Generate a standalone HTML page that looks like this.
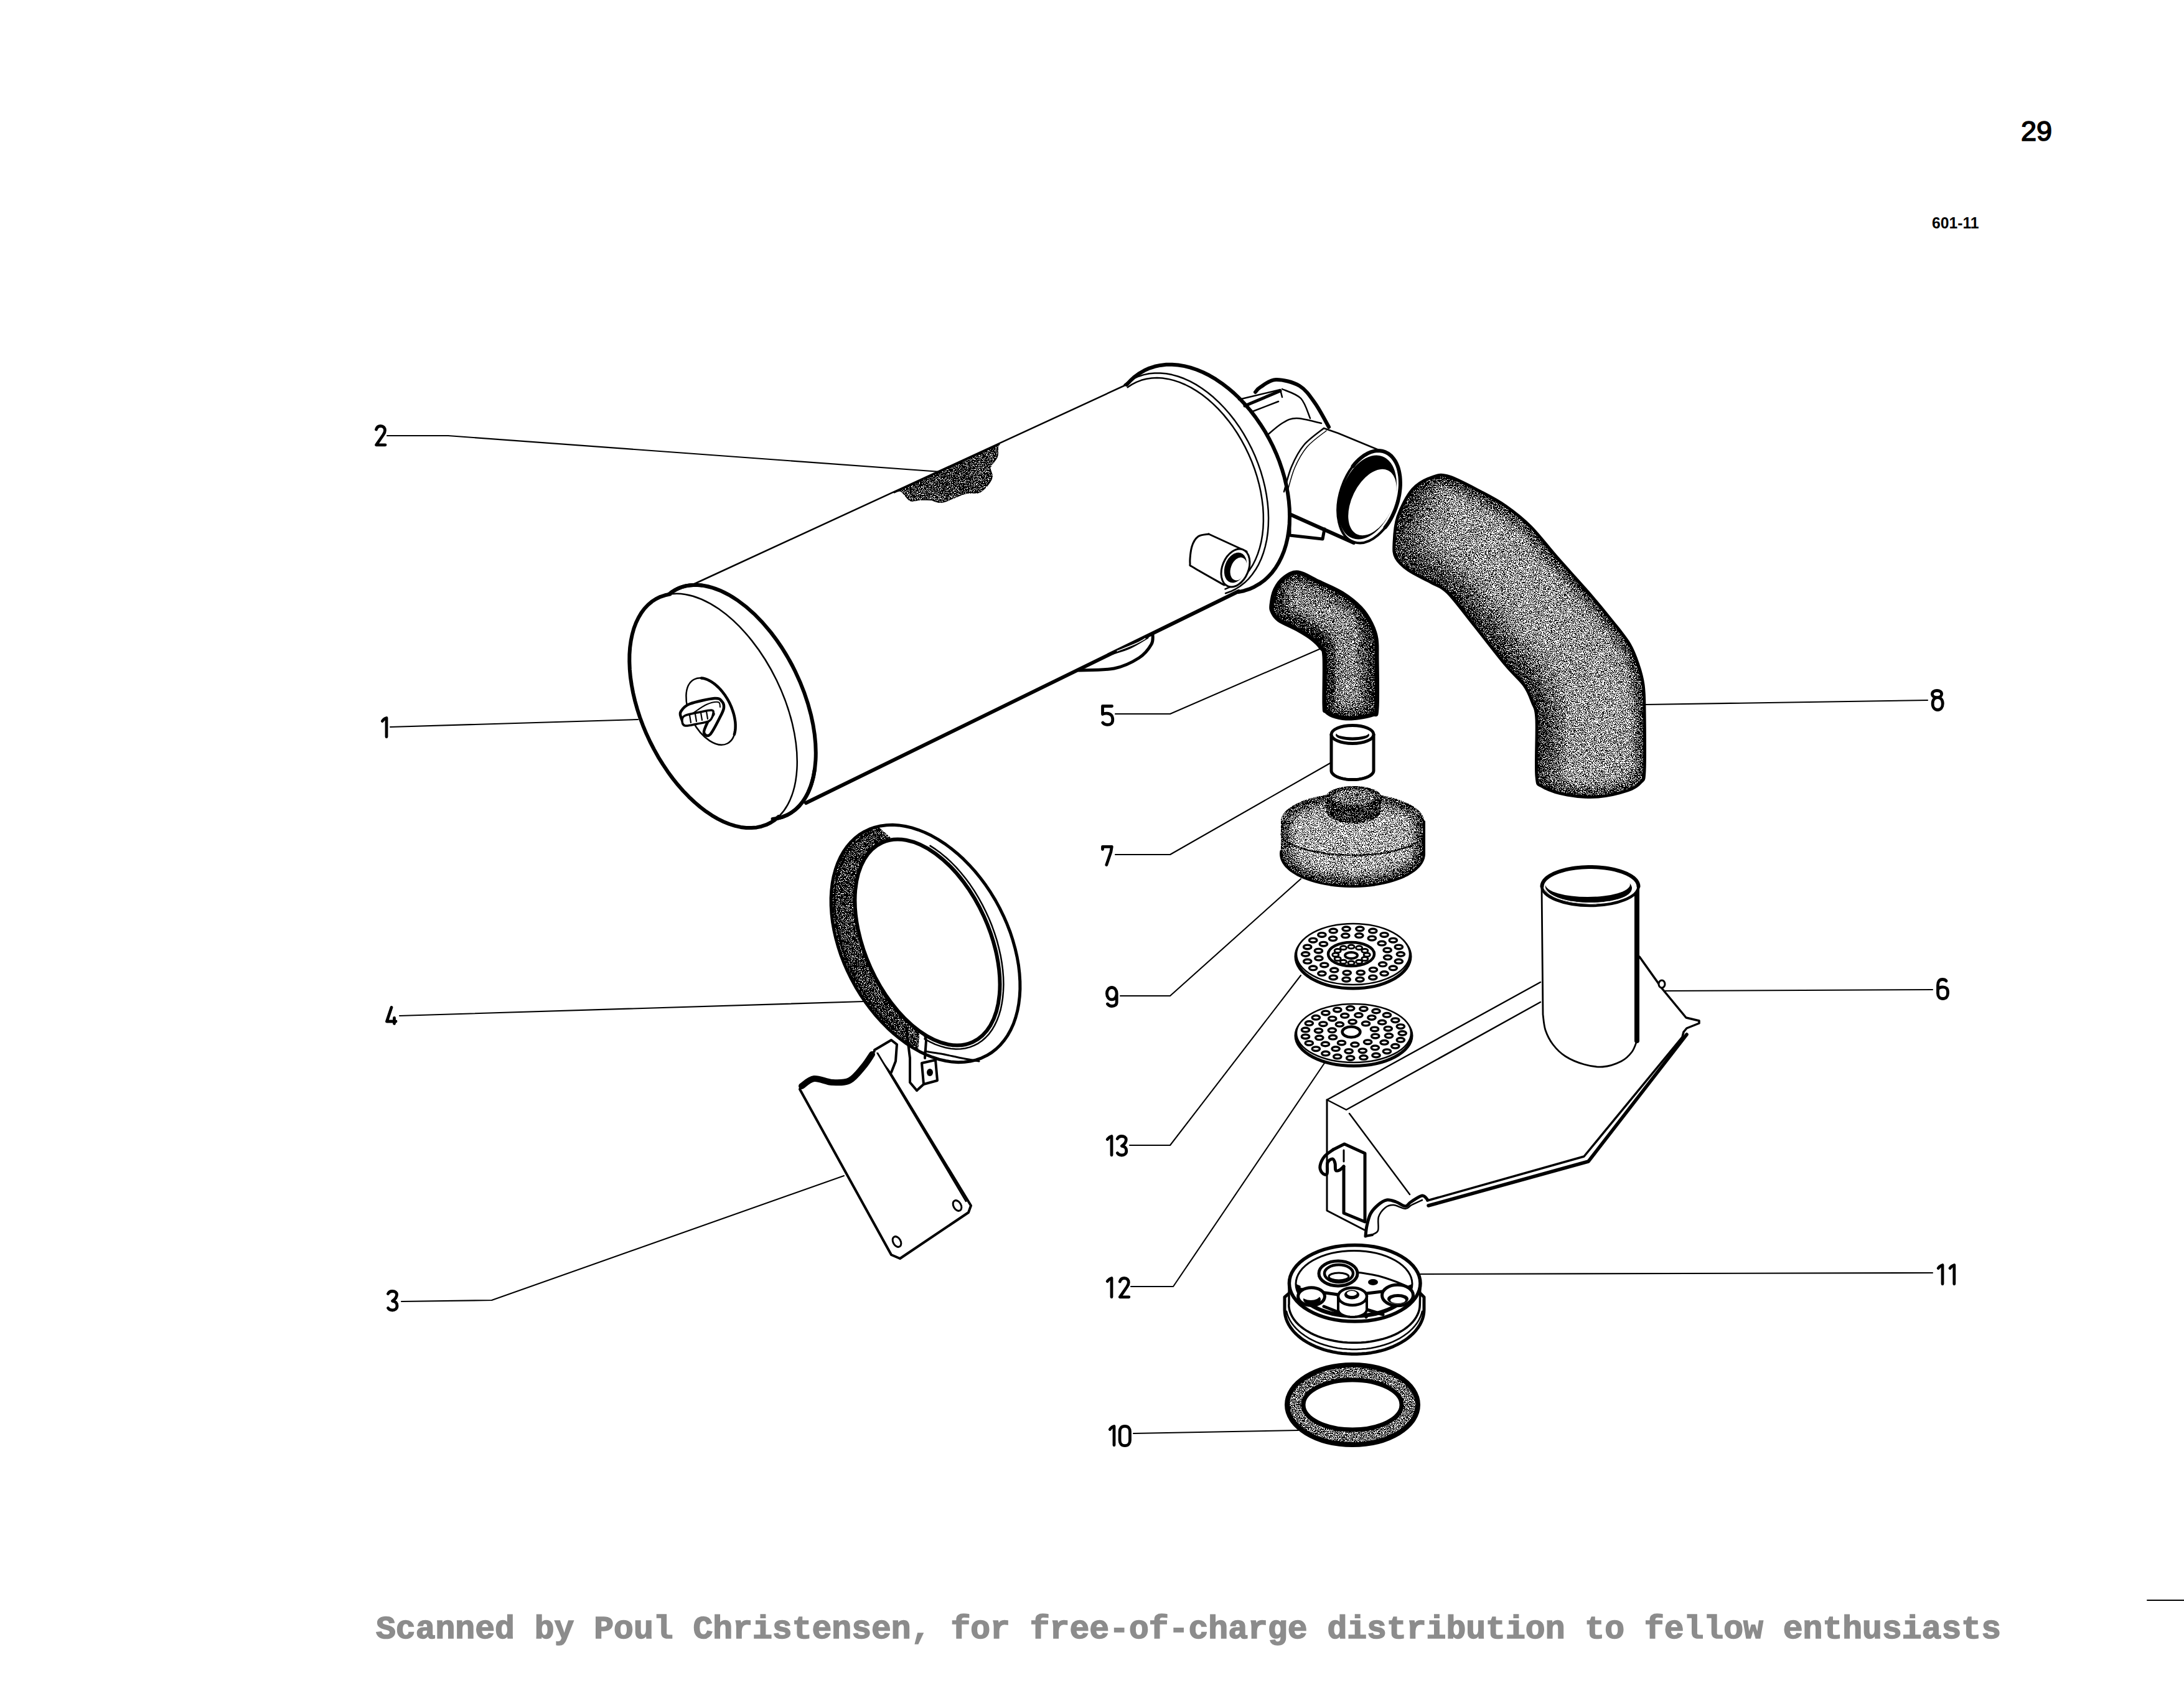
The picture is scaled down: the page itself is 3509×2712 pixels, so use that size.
<!DOCTYPE html>
<html><head><meta charset="utf-8"><style>
html,body{margin:0;padding:0;background:#fff;}
body{width:3509px;height:2712px;overflow:hidden;position:relative;}
svg{position:absolute;left:0;top:0;}
</style></head><body>
<svg width="3509" height="2712" viewBox="0 0 3509 2712">
<defs>

<filter id="stip" x="0" y="0" width="3509" height="2712" filterUnits="userSpaceOnUse" color-interpolation-filters="sRGB"><feTurbulence type="fractalNoise" baseFrequency="0.7" numOctaves="2" seed="7" result="noise"/><feColorMatrix in="noise" type="matrix" values="1 0 0 0 0  1 0 0 0 0  1 0 0 0 0  0 0 0 0 1" result="ng"/><feComponentTransfer in="ng" result="nc"><feFuncR type="linear" slope="3.2" intercept="-1.1"/><feFuncG type="linear" slope="3.2" intercept="-1.1"/><feFuncB type="linear" slope="3.2" intercept="-1.1"/></feComponentTransfer><feComposite in="SourceGraphic" in2="nc" operator="arithmetic" k1="0" k2="1" k3="1" k4="-0.5" result="sum"/><feComponentTransfer in="sum" result="th"><feFuncR type="discrete" tableValues="0 1"/><feFuncG type="discrete" tableValues="0 1"/><feFuncB type="discrete" tableValues="0 1"/></feComponentTransfer><feComposite in="th" in2="SourceAlpha" operator="in"/></filter>
<filter id="blur4" x="-20%" y="-20%" width="140%" height="140%"><feGaussianBlur stdDeviation="4"/></filter>
<filter id="blur20" x="-20%" y="-20%" width="140%" height="140%"><feGaussianBlur stdDeviation="18"/></filter>
<filter id="blur8" x="-20%" y="-20%" width="140%" height="140%"><feGaussianBlur stdDeviation="8"/></filter>

</defs>
<path transform="translate(602 682)" d="M2.5,8 C3.5,4.5 6,2.5 9.5,2.5 C14,2.5 16.5,5.5 16.5,9.5 C16.5,12.5 15.5,14.5 13.5,17 L2.5,32.8 L17,32.8" fill="none" stroke="#000" stroke-width="4.8" stroke-linecap="round" stroke-linejoin="round"/>
<path transform="translate(612 1151)" d="M2.3,7.5 C4,5 6,3.2 9,2.5 L9,32.8" fill="none" stroke="#000" stroke-width="4.8" stroke-linecap="round" stroke-linejoin="round"/>
<path transform="translate(619 1616)" d="M10,2.5 L2.5,25 L17,25 M14.5,19.5 L14.5,28.5" fill="none" stroke="#000" stroke-width="4.8" stroke-linecap="round" stroke-linejoin="round"/>
<path transform="translate(621 2072)" d="M2.5,6.5 C4,3.5 6.5,2.5 9.5,2.5 C13.5,2.5 16.5,4.5 16.5,8 C16.5,12 13,16 9.5,18.3 C14,18.5 17,21.5 17,26 C17,30.5 13.5,33 9.5,33 C6,33 3.8,31.5 2.5,29.5" fill="none" stroke="#000" stroke-width="4.8" stroke-linecap="round" stroke-linejoin="round"/>
<path transform="translate(1769 1132)" d="M17.5,2.5 L2.5,2.5 L2.5,15.5 C6,13.5 13,13.5 16.5,17 C19.5,20.5 19.5,28 16.5,30.5 C13,33.5 6,33 2.8,29" fill="none" stroke="#000" stroke-width="4.8" stroke-linecap="round" stroke-linejoin="round"/>
<path transform="translate(1769 1357)" d="M2.5,7.5 L2.5,3.3 L17.3,3.3 L15.8,12 L8.8,32.5" fill="none" stroke="#000" stroke-width="4.8" stroke-linecap="round" stroke-linejoin="round"/>
<path transform="translate(1776 1584)" d="M10.3,2.5 C14.7,2.5 18.2,6.5 18.2,12.2 C18.2,17.9 14.7,21.9 10.3,21.9 C5.9,21.9 2.4,17.9 2.4,12.2 C2.4,6.5 5.9,2.5 10.3,2.5 Z M18.2,12 L18.2,26 C18.2,30.5 15,32.5 10.5,32.5 C7,32.5 5,31 3.5,29" fill="none" stroke="#000" stroke-width="4.8" stroke-linecap="round" stroke-linejoin="round"/>
<path transform="translate(1777 1823)" d="M2.3,7.5 C4,5 6,3.2 9,2.5 L9,32.8" fill="none" stroke="#000" stroke-width="4.8" stroke-linecap="round" stroke-linejoin="round"/>
<path transform="translate(1792.8 1823)" d="M2.5,6.5 C4,3.5 6.5,2.5 9.5,2.5 C13.5,2.5 16.5,4.5 16.5,8 C16.5,12 13,16 9.5,18.3 C14,18.5 17,21.5 17,26 C17,30.5 13.5,33 9.5,33 C6,33 3.8,31.5 2.5,29.5" fill="none" stroke="#000" stroke-width="4.8" stroke-linecap="round" stroke-linejoin="round"/>
<path transform="translate(1777 2051)" d="M2.3,7.5 C4,5 6,3.2 9,2.5 L9,32.8" fill="none" stroke="#000" stroke-width="4.8" stroke-linecap="round" stroke-linejoin="round"/>
<path transform="translate(1796.8 2051)" d="M2.5,8 C3.5,4.5 6,2.5 9.5,2.5 C14,2.5 16.5,5.5 16.5,9.5 C16.5,12.5 15.5,14.5 13.5,17 L2.5,32.8 L17,32.8" fill="none" stroke="#000" stroke-width="4.8" stroke-linecap="round" stroke-linejoin="round"/>
<path transform="translate(1781 2289)" d="M2.3,7.5 C4,5 6,3.2 9,2.5 L9,32.8" fill="none" stroke="#000" stroke-width="4.8" stroke-linecap="round" stroke-linejoin="round"/>
<path transform="translate(1796.8 2289)" d="M10.5,2.3 C16,2.3 18.7,6 18.7,11 L18.7,25 C18.7,30 16,33.7 10.5,33.7 C5,33.7 2.3,30 2.3,25 L2.3,11 C2.3,6 5,2.3 10.5,2.3 Z" fill="none" stroke="#000" stroke-width="4.8" stroke-linecap="round" stroke-linejoin="round"/>
<path transform="translate(3102 1107)" d="M10.1,2.5 C14.5,2.5 17.6,4.8 17.6,8 C17.6,11.2 14.5,13.6 10.1,13.6 C5.7,13.6 2.5,11.2 2.5,8 C2.5,4.8 5.7,2.5 10.1,2.5 Z M11.2,13.6 C16,13.6 19.3,17.5 19.3,23.5 C19.3,29.5 16,33.5 11.2,33.5 C6.4,33.5 3.1,29.5 3.1,23.5 C3.1,17.5 6.4,13.6 11.2,13.6 Z" fill="none" stroke="#000" stroke-width="4.8" stroke-linecap="round" stroke-linejoin="round"/>
<path transform="translate(3111 1571)" d="M16,5 C14.5,3 12,2.5 10,2.5 C5,2.5 2.5,6 2.5,12 L2.5,25 C2.5,30 5.5,33.5 10.5,33.5 C15.5,33.5 18.5,30 18.5,25 L18.5,22.5 C18.5,17.5 15.5,14.8 10.5,14.8 C6.5,14.8 3.5,16.5 2.5,19" fill="none" stroke="#000" stroke-width="4.8" stroke-linecap="round" stroke-linejoin="round"/>
<path transform="translate(3112 2030)" d="M2.3,7.5 C4,5 6,3.2 9,2.5 L9,32.8" fill="none" stroke="#000" stroke-width="4.8" stroke-linecap="round" stroke-linejoin="round"/>
<path transform="translate(3130.8 2030)" d="M2.3,7.5 C4,5 6,3.2 9,2.5 L9,32.8" fill="none" stroke="#000" stroke-width="4.8" stroke-linecap="round" stroke-linejoin="round"/>
<text transform="translate(3247 226) scale(1.0 1)" font-family="Liberation Sans" font-size="45" font-weight="normal" fill="#000" stroke="#000" stroke-width="1.6">29</text>
<path d="M3450,2571 L3509,2571" fill="none" stroke="#000" stroke-width="2" stroke-linejoin="round" stroke-linecap="round"/>
<text transform="translate(3104 367) scale(0.95 1)" font-family="Liberation Sans" font-size="26" font-weight="bold" fill="#000">601-11</text>
<path d="M622,700 L720,700 L1511,758" fill="none" stroke="#000" stroke-width="2.1" stroke-linejoin="round" stroke-linecap="round"/>
<path d="M627,1168 L1025,1156" fill="none" stroke="#000" stroke-width="2.1" stroke-linejoin="round" stroke-linecap="round"/>
<path d="M642,1632 L1388,1609" fill="none" stroke="#000" stroke-width="2.1" stroke-linejoin="round" stroke-linecap="round"/>
<path d="M645,2091 L790,2089 L1356,1889" fill="none" stroke="#000" stroke-width="2.1" stroke-linejoin="round" stroke-linecap="round"/>
<path d="M1792,1147 L1880,1147 L2122,1042" fill="none" stroke="#000" stroke-width="2.1" stroke-linejoin="round" stroke-linecap="round"/>
<path d="M1792,1373 L1880,1373 L2139,1225" fill="none" stroke="#000" stroke-width="2.1" stroke-linejoin="round" stroke-linecap="round"/>
<path d="M1800,1600 L1880,1600 L2090,1412" fill="none" stroke="#000" stroke-width="2.1" stroke-linejoin="round" stroke-linecap="round"/>
<path d="M1815,1840 L1880,1840 L2090,1567" fill="none" stroke="#000" stroke-width="2.1" stroke-linejoin="round" stroke-linecap="round"/>
<path d="M1817,2067 L1885,2067 L2130,1705" fill="none" stroke="#000" stroke-width="2.1" stroke-linejoin="round" stroke-linecap="round"/>
<path d="M1821,2303 L2086,2298" fill="none" stroke="#000" stroke-width="2.1" stroke-linejoin="round" stroke-linecap="round"/>
<path d="M2644,1132 L3097,1125" fill="none" stroke="#000" stroke-width="2.1" stroke-linejoin="round" stroke-linecap="round"/>
<path d="M2675,1592 L3105,1590" fill="none" stroke="#000" stroke-width="2.1" stroke-linejoin="round" stroke-linecap="round"/>
<path d="M2282,2047 L3105,2045" fill="none" stroke="#000" stroke-width="2.1" stroke-linejoin="round" stroke-linecap="round"/>
<text x="604" y="2632" font-family="Liberation Mono" font-weight="bold" font-size="52.6" fill="#8c8c8c" stroke="#8c8c8c" stroke-width="1.6" textLength="2611" lengthAdjust="spacingAndGlyphs">Scanned by Poul Christensen, for free-of-charge distribution to fellow enthusiasts</text>
<path d="M1107,942 L1812,617" fill="none" stroke="#000" stroke-width="2.5" stroke-linejoin="round" stroke-linecap="round"/>
<path d="M1295,1290 L1990,950" fill="none" stroke="#000" stroke-width="6" stroke-linejoin="round" stroke-linecap="round"/>
<path d="M1733,1077 C1742.5,1076.5 1773.8,1077.3 1790,1074 C1806.2,1070.7 1820,1063.5 1830,1057 C1840,1050.5 1846.3,1041.5 1850,1035 C1853.7,1028.5 1851.7,1020.8 1852,1018" fill="none" stroke="#000" stroke-width="5" stroke-linejoin="round" stroke-linecap="round"/>
<path d="M1785,1050 C1790,1048.3 1805.3,1044.3 1815,1040 C1824.7,1035.7 1838.3,1026.7 1843,1024" fill="none" stroke="#000" stroke-width="5" stroke-linejoin="round" stroke-linecap="round"/>
<path d="M1795,1046 C1800,1044 1817.5,1037.3 1825,1034 C1832.5,1030.7 1837.5,1027.3 1840,1026" fill="none" stroke="#fff" stroke-width="1.5" stroke-linejoin="round" stroke-linecap="round"/>
<path d="M1810.2,618.1 L1816.5,611.2 L1823.3,605.1 L1830.7,599.8 L1838.5,595.3 L1846.7,591.6 L1855.3,588.8 L1864.3,586.9 L1873.6,585.8 L1883.1,585.7 L1892.9,586.5 L1902.8,588.1 L1912.8,590.6 L1922.9,594 L1933.1,598.3 L1943.2,603.3 L1953.2,609.2 L1963.1,615.9 L1972.8,623.3 L1982.3,631.4 L1991.5,640.2 L2000.4,649.6 L2009,659.6 L2017.1,670.1 L2024.8,681.2 L2032.1,692.6 L2038.8,704.4 L2045,716.5 L2050.6,728.9 L2055.6,741.5 L2059.9,754.2 L2063.7,767 L2066.7,779.8 L2069.1,792.5 L2070.8,805.2 L2071.8,817.6 L2072.1,829.8 L2071.7,841.7 L2070.5,853.3 L2068.7,864.5 L2066.2,875.1 L2063,885.3 L2059.1,894.9 L2054.6,903.9 L2049.5,912.2 L2043.8,919.9 L2037.5,926.8 L2030.7,932.9 L2023.3,938.2 L2015.5,942.7 L2007.3,946.4 L1998.7,949.2 L1989.7,951.1" fill="none" stroke="#000" stroke-width="6" stroke-linejoin="round" stroke-linecap="round"/>
<path d="M1806.6,617.9 L1813.7,612.7 L1821.3,608.3 L1829.3,604.7 L1837.6,602.1 L1846.3,600.3 L1855.2,599.4 L1864.4,599.4 L1873.7,600.3 L1883.2,602.1 L1892.8,604.8 L1902.5,608.3 L1912.1,612.7 L1921.7,617.9 L1931.2,624 L1940.5,630.8 L1949.7,638.3 L1958.6,646.6 L1967.2,655.5 L1975.5,665 L1983.5,675.1 L1991,685.7 L1998.1,696.8 L2004.6,708.3 L2010.7,720.1 L2016.3,732.3 L2021.2,744.6 L2025.6,757.2 L2029.3,769.8 L2032.4,782.5 L2034.8,795.1 L2036.6,807.7 L2037.7,820.1 L2038.1,832.3 L2037.8,844.2 L2036.9,855.8 L2035.3,867 L2032.9,877.8 L2030,888 L2026.4,897.7 L2022.2,906.8 L2017.3,915.3 L2011.9,923 L2006,930.1 L1999.5,936.3 L1992.5,941.8 L1985.1,946.5 L1977.2,950.3 L1969,953.2" fill="none" stroke="#000" stroke-width="2.5" stroke-linejoin="round" stroke-linecap="round"/>
<path d="M1811.7,622.2 L1818.7,617.6 L1826,613.8 L1833.8,610.8 L1841.9,608.7 L1850.3,607.5 L1858.9,607.1 L1867.8,607.6 L1876.8,608.9 L1885.9,611.1 L1895.1,614.1 L1904.3,618 L1913.5,622.6 L1922.6,628.1 L1931.6,634.3 L1940.5,641.3 L1949.1,648.9 L1957.5,657.2 L1965.7,666.1 L1973.4,675.6 L1980.9,685.6 L1987.9,696 L1994.4,706.9 L2000.5,718.1 L2006.1,729.7 L2011.2,741.5 L2015.7,753.5 L2019.6,765.6 L2022.9,777.8 L2025.6,790 L2027.6,802.1 L2029.1,814.1 L2029.8,825.9 L2029.9,837.5 L2029.4,848.8 L2028.2,859.8 L2026.4,870.4 L2023.9,880.4 L2020.8,890 L2017.1,899.1 L2012.9,907.5 L2008,915.2 L2002.6,922.3 L1996.7,928.7 L1990.3,934.3 L1983.4,939.1 L1976.2,943.2 L1968.5,946.4" fill="none" stroke="#000" stroke-width="2.5" stroke-linejoin="round" stroke-linecap="round"/>
<ellipse cx="1176" cy="1128" rx="202" ry="113" transform="rotate(64 1176 1128)" fill="#fff" stroke="#000" stroke-width="6"/>
<ellipse cx="1146" cy="1142" rx="202" ry="113" transform="rotate(64 1146 1142)" fill="#fff" stroke="#000" stroke-width="2.5"/>
<path d="M1250.8,1312.2 L1244.7,1317.4 L1238,1321.7 L1231,1325.2 L1223.4,1327.7 L1215.6,1329.4 L1207.4,1330.1 L1198.8,1330 L1190.1,1328.9 L1181.1,1326.9 L1171.9,1324 L1162.6,1320.2 L1153.3,1315.6 L1143.8,1310.1 L1134.5,1303.8 L1125.1,1296.6 L1115.9,1288.8 L1106.8,1280.2 L1097.9,1271 L1089.2,1261.1 L1080.8,1250.6 L1072.8,1239.7 L1065.1,1228.2 L1057.7,1216.3 L1050.9,1204.1 L1044.4,1191.5 L1038.5,1178.8 L1033.1,1165.8 L1028.2,1152.7 L1024,1139.6 L1020.3,1126.5 L1017.2,1113.4 L1014.8,1100.5 L1012.9,1087.8 L1011.8,1075.4 L1011.3,1063.2 L1011.4,1051.5 L1012.2,1040.2 L1013.7,1029.4 L1015.8,1019.2 L1018.5,1009.5 L1021.9,1000.5 L1025.9,992.2 L1030.4,984.6 L1035.5,977.8 L1041.2,971.8 L1047.3,966.6 L1054,962.3 L1061,958.8 L1068.6,956.3 L1076.4,954.6" fill="none" stroke="#000" stroke-width="6" stroke-linejoin="round" stroke-linecap="round"/>
<path d="M1309.1,1235.2 L1307.3,1245.8 L1304.9,1255.7 L1301.9,1265 L1298.2,1273.7 L1293.9,1281.7 L1289.1,1288.9 L1283.7,1295.3 L1277.8,1300.9 L1271.4,1305.7 L1264.6,1309.6 L1257.3,1312.6 L1249.6,1314.7 L1241.5,1315.9" fill="none" stroke="#000" stroke-width="6" stroke-linejoin="round" stroke-linecap="round"/>
<path d="M1078.9,951.5 L1084.2,948.2 L1089.7,945.4 L1095.5,943.2 L1101.5,941.5 L1107.7,940.4 L1114.1,939.9 L1120.7,939.9 L1127.5,940.5" fill="none" stroke="#000" stroke-width="6" stroke-linejoin="round" stroke-linecap="round"/>
<ellipse cx="1142" cy="1143" rx="58" ry="33" transform="rotate(62.6 1142 1143)" fill="none" stroke="#000" stroke-width="2.5"/>
<path d="M1126.9,1089.4 L1129.6,1089.8 L1132.3,1090.4 L1135,1091.3 L1137.8,1092.5 L1140.6,1093.9 L1143.4,1095.6 L1146.2,1097.5 L1149,1099.6 L1151.7,1102 L1154.4,1104.5 L1157.1,1107.3 L1159.6,1110.2 L1162.1,1113.3 L1164.5,1116.5 L1166.7,1119.9 L1168.9,1123.4 L1170.9,1127 L1172.7,1130.6 L1174.4,1134.4 L1175.9,1138.2 L1177.3,1142 L1178.5,1145.8 L1179.5,1149.5 L1180.3,1153.3 L1180.9,1157 L1181.4,1160.6 L1181.6,1164.2 L1181.6,1167.6 L1181.5,1171 L1181.1,1174.1 L1180.5,1177.2 L1179.8,1180" fill="none" stroke="#000" stroke-width="4.5" stroke-linejoin="round" stroke-linecap="round"/>
<path d="M1094,1143 C1096.3,1139.5 1099,1134.5 1108,1131 C1117,1127.5 1139.3,1122.7 1148,1122 C1156.7,1121.3 1157.5,1124.5 1160,1127 C1162.5,1129.5 1163.3,1133.2 1163,1137 C1162.7,1140.8 1161.7,1142.8 1158,1150 C1154.3,1157.2 1145.5,1175.5 1141,1180 C1136.5,1184.5 1131.7,1180.3 1131,1177 C1130.3,1173.7 1134.5,1165.2 1137,1160 C1139.5,1154.8 1148.8,1147.3 1146,1146 C1143.2,1144.7 1127.7,1149.7 1120,1152 C1112.3,1154.3 1104.3,1160 1100,1160 C1095.7,1160 1095,1154.8 1094,1152 C1093,1149.2 1091.7,1146.5 1094,1143 Z" fill="#fff" stroke="#000" stroke-width="4.5" stroke-linejoin="round" stroke-linecap="round"/>
<path d="M1100,1150 C1104.8,1147.5 1117.8,1145.5 1125,1144 C1132.2,1142.5 1139.5,1140.7 1143,1141 C1146.5,1141.3 1146.5,1143.2 1146,1146 C1145.5,1148.8 1144.3,1155.2 1140,1158 C1135.7,1160.8 1126.5,1161.7 1120,1163 C1113.5,1164.3 1105,1166.7 1101,1166 C1097,1165.3 1096.2,1161.7 1096,1159 C1095.8,1156.3 1095.2,1152.5 1100,1150 Z" fill="#fff" stroke="#000" stroke-width="3.5" stroke-linejoin="round" stroke-linecap="round"/>
<path d="M1108,1149 L1110,1161" fill="none" stroke="#000" stroke-width="2.2" stroke-linejoin="round" stroke-linecap="round"/>
<path d="M1117,1147 L1119,1159" fill="none" stroke="#000" stroke-width="2.2" stroke-linejoin="round" stroke-linecap="round"/>
<path d="M1126,1145 L1128,1157" fill="none" stroke="#000" stroke-width="2.2" stroke-linejoin="round" stroke-linecap="round"/>
<path d="M1135,1143 L1137,1155" fill="none" stroke="#000" stroke-width="2.2" stroke-linejoin="round" stroke-linecap="round"/>
<path d="M1113,1146 C1116.7,1143.7 1128.2,1135 1135,1132 C1141.8,1129 1150.3,1127.3 1154,1128 C1157.7,1128.7 1156.5,1134.7 1157,1136" fill="none" stroke="#000" stroke-width="2" stroke-linejoin="round" stroke-linecap="round"/>
<path d="M1942,858 C1939.2,858.7 1929.5,858.7 1925,862 C1920.5,865.3 1917.2,870.8 1915,878 C1912.8,885.2 1911.5,899.3 1912,905 C1912.5,910.7 1908.8,906.2 1918,912 C1927.2,917.8 1958.8,935.3 1967,940" fill="none" stroke="#000" stroke-width="3" stroke-linejoin="round" stroke-linecap="round"/>
<path d="M1942,858 L2003,886" fill="none" stroke="#000" stroke-width="3" stroke-linejoin="round" stroke-linecap="round"/>
<ellipse cx="1985" cy="912.5" rx="31.8" ry="21" transform="rotate(-67.3 1985 912.5)" fill="#fff" stroke="#000" stroke-width="3"/>
<ellipse cx="1985" cy="912" rx="25" ry="17" transform="rotate(-69.7 1985 912)" fill="#000"/>
<ellipse cx="1990" cy="914" rx="19" ry="12.5" transform="rotate(-69.7 1990 914)" fill="#fff"/>
<path d="M2017,630 C2018.3,628.7 2019.5,625.3 2025,622 C2030.5,618.7 2039.5,610.3 2050,610 C2060.5,609.7 2077.5,613.7 2088,620 C2098.5,626.3 2105.2,637 2113,648 C2120.8,659 2131.3,679.7 2135,686" fill="none" stroke="#000" stroke-width="6" stroke-linejoin="round" stroke-linecap="round"/>
<path d="M1990,642 L2057,626 L2060,638" fill="none" stroke="#000" stroke-width="2.5" stroke-linejoin="round" stroke-linecap="round"/>
<path d="M2000,652 L2057,628" fill="none" stroke="#000" stroke-width="5" stroke-linejoin="round" stroke-linecap="round"/>
<path d="M2010,662 L2054,645" fill="none" stroke="#000" stroke-width="2.5" stroke-linejoin="round" stroke-linecap="round"/>
<path d="M2035,700 C2039.2,696.7 2052,684.7 2060,680 C2068,675.3 2072.5,672 2083,672 C2093.5,672 2116.3,678.7 2123,680" fill="none" stroke="#000" stroke-width="2.5" stroke-linejoin="round" stroke-linecap="round"/>
<path d="M2060,625 C2065,627.5 2082.5,632.2 2090,640 C2097.5,647.8 2102.5,666.7 2105,672" fill="none" stroke="#000" stroke-width="2.5" stroke-linejoin="round" stroke-linecap="round"/>
<path d="M2127,688 C2121.7,692.5 2103.7,704.7 2095,715 C2086.3,725.3 2080.3,737.5 2075,750 C2069.7,762.5 2065,783.3 2063,790" fill="none" stroke="#000" stroke-width="2.5" stroke-linejoin="round" stroke-linecap="round"/>
<path d="M2131,692 C2125.8,696.3 2108.5,708 2100,718 C2091.5,728 2085.3,739.7 2080,752 C2074.7,764.3 2070,785.3 2068,792" fill="none" stroke="#000" stroke-width="1.5" stroke-linejoin="round" stroke-linecap="round"/>
<path d="M2127,688 L2150,696 L2225,727" fill="none" stroke="#000" stroke-width="2.5" stroke-linejoin="round" stroke-linecap="round"/>
<path d="M2072,826 L2175,872" fill="none" stroke="#000" stroke-width="6" stroke-linejoin="round" stroke-linecap="round"/>
<path d="M2072,832 L2072,860 L2125,866 L2128,850" fill="none" stroke="#000" stroke-width="5" stroke-linejoin="round" stroke-linecap="round"/>
<ellipse cx="2199.6" cy="798.2" rx="76.6" ry="46.5" transform="rotate(-71.5 2199.6 798.2)" fill="#fff" stroke="#000" stroke-width="4"/>
<ellipse cx="2197" cy="799" rx="70" ry="43" transform="rotate(-70 2197 799)" fill="#000"/>
<ellipse cx="2205" cy="807" rx="57" ry="33" transform="rotate(-64 2205 807)" fill="#fff"/>
<path d="M2173.6,749.1 L2176.6,745.3 L2179.8,741.9 L2183.1,738.6 L2186.5,735.7 L2189.9,733.1 L2193.3,730.8 L2196.8,728.8 L2200.4,727.1 L2203.9,725.8 L2207.4,724.9 L2210.8,724.3 L2214.2,724.1 L2217.5,724.2 L2220.8,724.7 L2223.9,725.6 L2226.9,726.8 L2229.8,728.3 L2232.5,730.2 L2235.1,732.4 L2237.5,735 L2239.7,737.8 L2241.8,741 L2243.6,744.4 L2245.2,748.1 L2246.6,752 L2247.7,756.2 L2248.6,760.6 L2249.3,765.1 L2249.7,769.8 L2249.9,774.7 L2249.9,779.6 L2249.6,784.7 L2249,789.8 L2248.3,794.9 L2247.2,800.1 L2246,805.3 L2244.5,810.4 L2242.8,815.5 L2240.9,820.5 L2238.8,825.3 L2236.5,830.1 L2234,834.7 L2231.4,839.1 L2228.6,843.3 L2225.6,847.3" fill="none" stroke="#000" stroke-width="6" stroke-linejoin="round" stroke-linecap="round"/>
<path d="M1437,791 C1438.8,790.7 1443.8,786.8 1448,789 C1452.2,791.2 1457.2,801.7 1462,804 C1466.8,806.3 1471.5,803.2 1477,803 C1482.5,802.8 1489,802.3 1495,803 C1501,803.7 1506,807.8 1513,807 C1520,806.2 1530.2,800.5 1537,798 C1543.8,795.5 1548,793.2 1554,792 C1560,790.8 1567.7,793 1573,791 C1578.3,789 1582.5,784.2 1586,780 C1589.5,775.8 1593.2,770.8 1594,766 C1594.8,761.2 1589.7,756.3 1591,751 C1592.3,745.7 1600,739.5 1602,734 C1604,728.5 1602.5,721.3 1603,718 C1603.5,714.7 1604.7,714.7 1605,714" fill="#fff"/>
<g filter="url(#stip)">
<path d="M1437,791 C1438.8,790.7 1443.8,786.8 1448,789 C1452.2,791.2 1457.2,801.7 1462,804 C1466.8,806.3 1471.5,803.2 1477,803 C1482.5,802.8 1489,802.3 1495,803 C1501,803.7 1506,807.8 1513,807 C1520,806.2 1530.2,800.5 1537,798 C1543.8,795.5 1548,793.2 1554,792 C1560,790.8 1567.7,793 1573,791 C1578.3,789 1582.5,784.2 1586,780 C1589.5,775.8 1593.2,770.8 1594,766 C1594.8,761.2 1589.7,756.3 1591,751 C1592.3,745.7 1600,739.5 1602,734 C1604,728.5 1602.5,721.3 1603,718 C1603.5,714.7 1604.7,714.7 1605,714" fill="#3a3a3a" stroke="#000" stroke-width="2" stroke-linejoin="round" stroke-linecap="round"/>
</g>
<path d="M1605,714 L1437,791" fill="none" stroke="#000" stroke-width="3" stroke-linejoin="round" stroke-linecap="round"/>
<g filter="url(#stip)">
<clipPath id="h8"><path d="M2240,873 C2240.5,862 2241,844.5 2246,830 C2251,815.5 2260.5,796.7 2270,786 C2279.5,775.3 2293.2,769.3 2303,766 C2312.8,762.7 2316.3,762 2329,766 C2341.7,770 2364,782.2 2379,790 C2394,797.8 2405.7,803.7 2419,813 C2432.3,822.3 2445.2,832.2 2459,846 C2472.8,859.8 2486.5,878.3 2502,896 C2517.5,913.7 2537.2,934.8 2552,952 C2566.8,969.2 2580,985.2 2591,999 C2602,1012.8 2611.2,1023.5 2618,1035 C2624.8,1046.5 2628.3,1057.2 2632,1068 C2635.7,1078.8 2638.3,1088 2640,1100 C2641.7,1112 2641.7,1117 2642,1140 C2642.3,1163 2643,1218.5 2642,1238 C2641,1257.5 2640.5,1251.7 2636,1257 C2631.5,1262.3 2626.3,1266.2 2615,1270 C2603.7,1273.8 2584.2,1278.8 2568,1280 C2551.8,1281.2 2532.8,1279.7 2518,1277 C2503.2,1274.3 2487.2,1269 2479,1264 C2470.8,1259 2470.7,1265.2 2469,1247 C2467.3,1228.8 2470.2,1174.8 2469,1155 C2467.8,1135.2 2465.3,1137 2462,1128 C2458.7,1119 2456.2,1111 2449,1101 C2441.8,1091 2432.3,1084 2419,1068 C2405.7,1052 2384.5,1024.3 2369,1005 C2353.5,985.7 2337.5,963.5 2326,952 C2314.5,940.5 2310.5,942 2300,936 C2289.5,930 2272.5,922.7 2263,916 C2253.5,909.3 2246.8,903.2 2243,896 C2239.2,888.8 2239.5,884 2240,873 Z"/></clipPath>
<path d="M2240,873 C2240.5,862 2241,844.5 2246,830 C2251,815.5 2260.5,796.7 2270,786 C2279.5,775.3 2293.2,769.3 2303,766 C2312.8,762.7 2316.3,762 2329,766 C2341.7,770 2364,782.2 2379,790 C2394,797.8 2405.7,803.7 2419,813 C2432.3,822.3 2445.2,832.2 2459,846 C2472.8,859.8 2486.5,878.3 2502,896 C2517.5,913.7 2537.2,934.8 2552,952 C2566.8,969.2 2580,985.2 2591,999 C2602,1012.8 2611.2,1023.5 2618,1035 C2624.8,1046.5 2628.3,1057.2 2632,1068 C2635.7,1078.8 2638.3,1088 2640,1100 C2641.7,1112 2641.7,1117 2642,1140 C2642.3,1163 2643,1218.5 2642,1238 C2641,1257.5 2640.5,1251.7 2636,1257 C2631.5,1262.3 2626.3,1266.2 2615,1270 C2603.7,1273.8 2584.2,1278.8 2568,1280 C2551.8,1281.2 2532.8,1279.7 2518,1277 C2503.2,1274.3 2487.2,1269 2479,1264 C2470.8,1259 2470.7,1265.2 2469,1247 C2467.3,1228.8 2470.2,1174.8 2469,1155 C2467.8,1135.2 2465.3,1137 2462,1128 C2458.7,1119 2456.2,1111 2449,1101 C2441.8,1091 2432.3,1084 2419,1068 C2405.7,1052 2384.5,1024.3 2369,1005 C2353.5,985.7 2337.5,963.5 2326,952 C2314.5,940.5 2310.5,942 2300,936 C2289.5,930 2272.5,922.7 2263,916 C2253.5,909.3 2246.8,903.2 2243,896 C2239.2,888.8 2239.5,884 2240,873 Z" fill="#939393"/>
<g clip-path="url(#h8)"><path d="M2240,873 C2240.5,862 2241,844.5 2246,830 C2251,815.5 2260.5,796.7 2270,786 C2279.5,775.3 2293.2,769.3 2303,766 C2312.8,762.7 2316.3,762 2329,766 C2341.7,770 2364,782.2 2379,790 C2394,797.8 2405.7,803.7 2419,813 C2432.3,822.3 2445.2,832.2 2459,846 C2472.8,859.8 2486.5,878.3 2502,896 C2517.5,913.7 2537.2,934.8 2552,952 C2566.8,969.2 2580,985.2 2591,999 C2602,1012.8 2611.2,1023.5 2618,1035 C2624.8,1046.5 2628.3,1057.2 2632,1068 C2635.7,1078.8 2638.3,1088 2640,1100 C2641.7,1112 2641.7,1117 2642,1140 C2642.3,1163 2643,1218.5 2642,1238 C2641,1257.5 2640.5,1251.7 2636,1257 C2631.5,1262.3 2626.3,1266.2 2615,1270 C2603.7,1273.8 2584.2,1278.8 2568,1280 C2551.8,1281.2 2532.8,1279.7 2518,1277 C2503.2,1274.3 2487.2,1269 2479,1264 C2470.8,1259 2470.7,1265.2 2469,1247 C2467.3,1228.8 2470.2,1174.8 2469,1155 C2467.8,1135.2 2465.3,1137 2462,1128 C2458.7,1119 2456.2,1111 2449,1101 C2441.8,1091 2432.3,1084 2419,1068 C2405.7,1052 2384.5,1024.3 2369,1005 C2353.5,985.7 2337.5,963.5 2326,952 C2314.5,940.5 2310.5,942 2300,936 C2289.5,930 2272.5,922.7 2263,916 C2253.5,909.3 2246.8,903.2 2243,896 C2239.2,888.8 2239.5,884 2240,873 Z" fill="none" stroke="#333" stroke-width="26" filter="url(#blur8)"/><path d="M2290,770 C2284.2,775 2263.3,782.8 2255,800 C2246.7,817.2 2242,857 2240,873 C2238,889 2239.2,888.8 2243,896 C2246.8,903.2 2253.5,909.3 2263,916 C2272.5,922.7 2289.5,930 2300,936 C2310.5,942 2314.5,940.5 2326,952 C2337.5,963.5 2353.5,985.7 2369,1005 C2384.5,1024.3 2405.7,1052 2419,1068 C2432.3,1084 2441.8,1091 2449,1101 C2456.2,1111 2458.7,1119 2462,1128 C2465.3,1137 2467.8,1135.2 2469,1155 C2470.2,1174.8 2469,1231.7 2469,1247" fill="none" stroke="#222" stroke-width="70" stroke-opacity="0.75" filter="url(#blur20)"/></g>
<clipPath id="h5"><path d="M2043,972 C2043.7,965.8 2045.5,954.3 2049,947 C2052.5,939.7 2057.8,932.5 2064,928 C2070.2,923.5 2076.8,918.8 2086,920 C2095.2,921.2 2107.3,929.5 2119,935 C2130.7,940.5 2144.8,946 2156,953 C2167.2,960 2178.2,968.8 2186,977 C2193.8,985.2 2198.8,993.8 2203,1002 C2207.2,1010.2 2209.5,1016.7 2211,1026 C2212.5,1035.3 2211.8,1039.3 2212,1058 C2212.2,1076.7 2213.2,1123 2212,1138 C2210.8,1153 2211.8,1145.3 2205,1148 C2198.2,1150.7 2180.8,1153.5 2171,1154 C2161.2,1154.5 2152.7,1152.8 2146,1151 C2139.3,1149.2 2134,1146.2 2131,1143 C2128,1139.8 2128.5,1146.7 2128,1132 C2127.5,1117.3 2129,1070.3 2128,1055 C2127,1039.7 2125.3,1044.8 2122,1040 C2118.7,1035.2 2114,1030.7 2108,1026 C2102,1021.3 2094.8,1017 2086,1012 C2077.2,1007 2061.8,1000.7 2055,996 C2048.2,991.3 2047,988 2045,984 C2043,980 2042.3,978.2 2043,972 Z"/></clipPath>
<path d="M2043,972 C2043.7,965.8 2045.5,954.3 2049,947 C2052.5,939.7 2057.8,932.5 2064,928 C2070.2,923.5 2076.8,918.8 2086,920 C2095.2,921.2 2107.3,929.5 2119,935 C2130.7,940.5 2144.8,946 2156,953 C2167.2,960 2178.2,968.8 2186,977 C2193.8,985.2 2198.8,993.8 2203,1002 C2207.2,1010.2 2209.5,1016.7 2211,1026 C2212.5,1035.3 2211.8,1039.3 2212,1058 C2212.2,1076.7 2213.2,1123 2212,1138 C2210.8,1153 2211.8,1145.3 2205,1148 C2198.2,1150.7 2180.8,1153.5 2171,1154 C2161.2,1154.5 2152.7,1152.8 2146,1151 C2139.3,1149.2 2134,1146.2 2131,1143 C2128,1139.8 2128.5,1146.7 2128,1132 C2127.5,1117.3 2129,1070.3 2128,1055 C2127,1039.7 2125.3,1044.8 2122,1040 C2118.7,1035.2 2114,1030.7 2108,1026 C2102,1021.3 2094.8,1017 2086,1012 C2077.2,1007 2061.8,1000.7 2055,996 C2048.2,991.3 2047,988 2045,984 C2043,980 2042.3,978.2 2043,972 Z" fill="#838383"/>
<g clip-path="url(#h5)"><path d="M2043,972 C2043.7,965.8 2045.5,954.3 2049,947 C2052.5,939.7 2057.8,932.5 2064,928 C2070.2,923.5 2076.8,918.8 2086,920 C2095.2,921.2 2107.3,929.5 2119,935 C2130.7,940.5 2144.8,946 2156,953 C2167.2,960 2178.2,968.8 2186,977 C2193.8,985.2 2198.8,993.8 2203,1002 C2207.2,1010.2 2209.5,1016.7 2211,1026 C2212.5,1035.3 2211.8,1039.3 2212,1058 C2212.2,1076.7 2213.2,1123 2212,1138 C2210.8,1153 2211.8,1145.3 2205,1148 C2198.2,1150.7 2180.8,1153.5 2171,1154 C2161.2,1154.5 2152.7,1152.8 2146,1151 C2139.3,1149.2 2134,1146.2 2131,1143 C2128,1139.8 2128.5,1146.7 2128,1132 C2127.5,1117.3 2129,1070.3 2128,1055 C2127,1039.7 2125.3,1044.8 2122,1040 C2118.7,1035.2 2114,1030.7 2108,1026 C2102,1021.3 2094.8,1017 2086,1012 C2077.2,1007 2061.8,1000.7 2055,996 C2048.2,991.3 2047,988 2045,984 C2043,980 2042.3,978.2 2043,972 Z" fill="none" stroke="#222" stroke-width="22" filter="url(#blur8)"/><path d="M2050,950 C2049.2,955.7 2044.2,976.3 2045,984 C2045.8,991.7 2048.2,991.3 2055,996 C2061.8,1000.7 2077.2,1007 2086,1012 C2094.8,1017 2102,1021.3 2108,1026 C2114,1030.7 2118.7,1035.2 2122,1040 C2125.3,1044.8 2127,1039.7 2128,1055 C2129,1070.3 2128,1119.2 2128,1132" fill="none" stroke="#111" stroke-width="40" stroke-opacity="0.8" filter="url(#blur8)"/><path d="M2186,977 C2188.8,981.2 2198.8,993.8 2203,1002 C2207.2,1010.2 2209.5,1016.7 2211,1026 C2212.5,1035.3 2211.8,1039.3 2212,1058 C2212.2,1076.7 2212,1124.7 2212,1138" fill="none" stroke="#111" stroke-width="45" stroke-opacity="0.6" filter="url(#blur8)"/></g>
</g>
<path d="M2240,873 C2240.5,862 2241,844.5 2246,830 C2251,815.5 2260.5,796.7 2270,786 C2279.5,775.3 2293.2,769.3 2303,766 C2312.8,762.7 2316.3,762 2329,766 C2341.7,770 2364,782.2 2379,790 C2394,797.8 2405.7,803.7 2419,813 C2432.3,822.3 2445.2,832.2 2459,846 C2472.8,859.8 2486.5,878.3 2502,896 C2517.5,913.7 2537.2,934.8 2552,952 C2566.8,969.2 2580,985.2 2591,999 C2602,1012.8 2611.2,1023.5 2618,1035 C2624.8,1046.5 2628.3,1057.2 2632,1068 C2635.7,1078.8 2638.3,1088 2640,1100 C2641.7,1112 2641.7,1117 2642,1140 C2642.3,1163 2643,1218.5 2642,1238 C2641,1257.5 2640.5,1251.7 2636,1257 C2631.5,1262.3 2626.3,1266.2 2615,1270 C2603.7,1273.8 2584.2,1278.8 2568,1280 C2551.8,1281.2 2532.8,1279.7 2518,1277 C2503.2,1274.3 2487.2,1269 2479,1264 C2470.8,1259 2470.7,1265.2 2469,1247 C2467.3,1228.8 2470.2,1174.8 2469,1155 C2467.8,1135.2 2465.3,1137 2462,1128 C2458.7,1119 2456.2,1111 2449,1101 C2441.8,1091 2432.3,1084 2419,1068 C2405.7,1052 2384.5,1024.3 2369,1005 C2353.5,985.7 2337.5,963.5 2326,952 C2314.5,940.5 2310.5,942 2300,936 C2289.5,930 2272.5,922.7 2263,916 C2253.5,909.3 2246.8,903.2 2243,896 C2239.2,888.8 2239.5,884 2240,873 Z" fill="none" stroke="#000" stroke-width="5" stroke-linejoin="round" stroke-linecap="round"/>
<path d="M2043,972 C2043.7,965.8 2045.5,954.3 2049,947 C2052.5,939.7 2057.8,932.5 2064,928 C2070.2,923.5 2076.8,918.8 2086,920 C2095.2,921.2 2107.3,929.5 2119,935 C2130.7,940.5 2144.8,946 2156,953 C2167.2,960 2178.2,968.8 2186,977 C2193.8,985.2 2198.8,993.8 2203,1002 C2207.2,1010.2 2209.5,1016.7 2211,1026 C2212.5,1035.3 2211.8,1039.3 2212,1058 C2212.2,1076.7 2213.2,1123 2212,1138 C2210.8,1153 2211.8,1145.3 2205,1148 C2198.2,1150.7 2180.8,1153.5 2171,1154 C2161.2,1154.5 2152.7,1152.8 2146,1151 C2139.3,1149.2 2134,1146.2 2131,1143 C2128,1139.8 2128.5,1146.7 2128,1132 C2127.5,1117.3 2129,1070.3 2128,1055 C2127,1039.7 2125.3,1044.8 2122,1040 C2118.7,1035.2 2114,1030.7 2108,1026 C2102,1021.3 2094.8,1017 2086,1012 C2077.2,1007 2061.8,1000.7 2055,996 C2048.2,991.3 2047,988 2045,984 C2043,980 2042.3,978.2 2043,972 Z" fill="none" stroke="#000" stroke-width="7" stroke-linejoin="round" stroke-linecap="round"/>
<path d="M2207,1238 L2206.9,1239 L2206.7,1240 L2206.3,1241 L2205.7,1242 L2204.9,1243 L2204.1,1243.9 L2203,1244.9 L2201.8,1245.7 L2200.5,1246.6 L2199,1247.4 L2197.5,1248.1 L2195.8,1248.8 L2193.9,1249.5 L2192,1250.1 L2190,1250.6 L2187.9,1251.1 L2185.7,1251.5 L2183.5,1251.9 L2181.2,1252.2 L2178.9,1252.4 L2176.6,1252.5 L2174.2,1252.6 L2171.8,1252.6 L2169.4,1252.5 L2167.1,1252.4 L2164.8,1252.2 L2162.5,1251.9 L2160.3,1251.5 L2158.1,1251.1 L2156,1250.6 L2154,1250.1 L2152.1,1249.5 L2150.2,1248.8 L2148.5,1248.1 L2147,1247.4 L2145.5,1246.6 L2144.2,1245.7 L2143,1244.9 L2141.9,1243.9 L2141.1,1243 L2140.3,1242 L2139.7,1241 L2139.3,1240 L2139.1,1239 L2139,1238 L2139,1180 L2207,1180 Z" fill="#fff" stroke="#000" stroke-width="5" stroke-linejoin="round" stroke-linecap="round"/>
<ellipse cx="2173" cy="1180" rx="34" ry="14.6" fill="#fff" stroke="#000" stroke-width="5"/>
<ellipse cx="2173" cy="1181" rx="27" ry="8.5" fill="#000"/>
<ellipse cx="2173" cy="1178" rx="26" ry="6.5" fill="#fff"/>
<g filter="url(#stip)">
<clipPath id="p9"><path d="M2058,1320 L2058.3,1316.8 L2059.1,1313.6 L2060.5,1310.4 L2062.5,1307.3 L2064.9,1304.3 L2067.9,1301.3 L2071.5,1298.4 L2075.5,1295.6 L2080,1293 L2084.9,1290.4 L2090.3,1288 L2096,1285.8 L2102.2,1283.8 L2108.7,1281.9 L2115.5,1280.2 L2122.6,1278.7 L2129.9,1277.3 L2137.5,1276.3 L2145.2,1275.4 L2153,1274.7 L2161,1274.3 L2169,1274 L2177,1274 L2185,1274.3 L2193,1274.7 L2200.8,1275.4 L2208.5,1276.3 L2216.1,1277.3 L2223.4,1278.7 L2230.5,1280.2 L2237.3,1281.9 L2243.8,1283.8 L2250,1285.8 L2255.7,1288 L2261.1,1290.4 L2266,1293 L2270.5,1295.6 L2274.5,1298.4 L2278.1,1301.3 L2281.1,1304.3 L2283.5,1307.3 L2285.5,1310.4 L2286.9,1313.6 L2287.7,1316.8 L2288,1320 L2288,1372 L2287.7,1375.6 L2286.9,1379.2 L2285.5,1382.8 L2283.5,1386.3 L2281.1,1389.8 L2278.1,1393.2 L2274.5,1396.4 L2270.5,1399.6 L2266,1402.6 L2261.1,1405.4 L2255.7,1408.1 L2250,1410.6 L2243.8,1413 L2237.3,1415.1 L2230.5,1417 L2223.4,1418.7 L2216.1,1420.2 L2208.5,1421.5 L2200.8,1422.5 L2193,1423.2 L2185,1423.7 L2177,1424 L2169,1424 L2161,1423.7 L2153,1423.2 L2145.2,1422.5 L2137.5,1421.5 L2129.9,1420.2 L2122.6,1418.7 L2115.5,1417 L2108.7,1415.1 L2102.2,1413 L2096,1410.6 L2090.3,1408.1 L2084.9,1405.4 L2080,1402.6 L2075.5,1399.6 L2071.5,1396.4 L2067.9,1393.2 L2064.9,1389.8 L2062.5,1386.3 L2060.5,1382.8 L2059.1,1379.2 L2058.3,1375.6 L2058,1372 Z"/></clipPath>
<path d="M2058,1320 L2058.3,1316.8 L2059.1,1313.6 L2060.5,1310.4 L2062.5,1307.3 L2064.9,1304.3 L2067.9,1301.3 L2071.5,1298.4 L2075.5,1295.6 L2080,1293 L2084.9,1290.4 L2090.3,1288 L2096,1285.8 L2102.2,1283.8 L2108.7,1281.9 L2115.5,1280.2 L2122.6,1278.7 L2129.9,1277.3 L2137.5,1276.3 L2145.2,1275.4 L2153,1274.7 L2161,1274.3 L2169,1274 L2177,1274 L2185,1274.3 L2193,1274.7 L2200.8,1275.4 L2208.5,1276.3 L2216.1,1277.3 L2223.4,1278.7 L2230.5,1280.2 L2237.3,1281.9 L2243.8,1283.8 L2250,1285.8 L2255.7,1288 L2261.1,1290.4 L2266,1293 L2270.5,1295.6 L2274.5,1298.4 L2278.1,1301.3 L2281.1,1304.3 L2283.5,1307.3 L2285.5,1310.4 L2286.9,1313.6 L2287.7,1316.8 L2288,1320 L2288,1372 L2287.7,1375.6 L2286.9,1379.2 L2285.5,1382.8 L2283.5,1386.3 L2281.1,1389.8 L2278.1,1393.2 L2274.5,1396.4 L2270.5,1399.6 L2266,1402.6 L2261.1,1405.4 L2255.7,1408.1 L2250,1410.6 L2243.8,1413 L2237.3,1415.1 L2230.5,1417 L2223.4,1418.7 L2216.1,1420.2 L2208.5,1421.5 L2200.8,1422.5 L2193,1423.2 L2185,1423.7 L2177,1424 L2169,1424 L2161,1423.7 L2153,1423.2 L2145.2,1422.5 L2137.5,1421.5 L2129.9,1420.2 L2122.6,1418.7 L2115.5,1417 L2108.7,1415.1 L2102.2,1413 L2096,1410.6 L2090.3,1408.1 L2084.9,1405.4 L2080,1402.6 L2075.5,1399.6 L2071.5,1396.4 L2067.9,1393.2 L2064.9,1389.8 L2062.5,1386.3 L2060.5,1382.8 L2059.1,1379.2 L2058.3,1375.6 L2058,1372 Z" fill="#a2a2a2"/>
<g clip-path="url(#p9)"><path d="M2058,1320 L2058.3,1316.8 L2059.1,1313.6 L2060.5,1310.4 L2062.5,1307.3 L2064.9,1304.3 L2067.9,1301.3 L2071.5,1298.4 L2075.5,1295.6 L2080,1293 L2084.9,1290.4 L2090.3,1288 L2096,1285.8 L2102.2,1283.8 L2108.7,1281.9 L2115.5,1280.2 L2122.6,1278.7 L2129.9,1277.3 L2137.5,1276.3 L2145.2,1275.4 L2153,1274.7 L2161,1274.3 L2169,1274 L2177,1274 L2185,1274.3 L2193,1274.7 L2200.8,1275.4 L2208.5,1276.3 L2216.1,1277.3 L2223.4,1278.7 L2230.5,1280.2 L2237.3,1281.9 L2243.8,1283.8 L2250,1285.8 L2255.7,1288 L2261.1,1290.4 L2266,1293 L2270.5,1295.6 L2274.5,1298.4 L2278.1,1301.3 L2281.1,1304.3 L2283.5,1307.3 L2285.5,1310.4 L2286.9,1313.6 L2287.7,1316.8 L2288,1320 L2288,1372 L2287.7,1375.6 L2286.9,1379.2 L2285.5,1382.8 L2283.5,1386.3 L2281.1,1389.8 L2278.1,1393.2 L2274.5,1396.4 L2270.5,1399.6 L2266,1402.6 L2261.1,1405.4 L2255.7,1408.1 L2250,1410.6 L2243.8,1413 L2237.3,1415.1 L2230.5,1417 L2223.4,1418.7 L2216.1,1420.2 L2208.5,1421.5 L2200.8,1422.5 L2193,1423.2 L2185,1423.7 L2177,1424 L2169,1424 L2161,1423.7 L2153,1423.2 L2145.2,1422.5 L2137.5,1421.5 L2129.9,1420.2 L2122.6,1418.7 L2115.5,1417 L2108.7,1415.1 L2102.2,1413 L2096,1410.6 L2090.3,1408.1 L2084.9,1405.4 L2080,1402.6 L2075.5,1399.6 L2071.5,1396.4 L2067.9,1393.2 L2064.9,1389.8 L2062.5,1386.3 L2060.5,1382.8 L2059.1,1379.2 L2058.3,1375.6 L2058,1372 Z" fill="none" stroke="#222" stroke-width="26" filter="url(#blur8)"/></g>
<path d="M2287.6,1340.2 L2286.6,1342.8 L2285,1345.4 L2282.9,1347.9 L2280.2,1350.4 L2277,1352.8 L2273.3,1355.1 L2269.1,1357.3 L2264.4,1359.5 L2259.2,1361.5 L2253.6,1363.4 L2247.7,1365.1 L2241.3,1366.8 L2234.6,1368.2 L2227.6,1369.6 L2220.3,1370.7 L2212.8,1371.7 L2205.1,1372.5 L2197.2,1373.2 L2189.2,1373.6 L2181.1,1373.9 L2173,1374 L2164.9,1373.9 L2156.8,1373.6 L2148.8,1373.2 L2140.9,1372.5 L2133.2,1371.7 L2125.7,1370.7 L2118.4,1369.6 L2111.4,1368.2 L2104.7,1366.8 L2098.3,1365.1 L2092.4,1363.4 L2086.8,1361.5 L2081.6,1359.5 L2076.9,1357.3 L2072.7,1355.1 L2069,1352.8 L2065.8,1350.4 L2063.1,1347.9 L2061,1345.4 L2059.4,1342.8 L2058.4,1340.2" fill="none" stroke="#000" stroke-width="2.5" stroke-linejoin="round" stroke-linecap="round"/>
<path d="M2131,1280 L2131.1,1278.8 L2131.4,1277.6 L2132,1276.5 L2132.7,1275.3 L2133.7,1274.2 L2134.8,1273.1 L2136.2,1272 L2137.7,1271 L2139.4,1270 L2141.3,1269.1 L2143.3,1268.2 L2145.6,1267.4 L2147.9,1266.6 L2150.4,1265.9 L2153,1265.3 L2155.7,1264.7 L2158.5,1264.2 L2161.4,1263.8 L2164.4,1263.5 L2167.4,1263.3 L2170.4,1263.1 L2173.5,1263 L2176.5,1263 L2179.6,1263.1 L2182.6,1263.3 L2185.6,1263.5 L2188.6,1263.8 L2191.5,1264.2 L2194.3,1264.7 L2197,1265.3 L2199.6,1265.9 L2202.1,1266.6 L2204.4,1267.4 L2206.7,1268.2 L2208.7,1269.1 L2210.6,1270 L2212.3,1271 L2213.8,1272 L2215.2,1273.1 L2216.3,1274.2 L2217.3,1275.3 L2218,1276.5 L2218.6,1277.6 L2218.9,1278.8 L2219,1280 L2219,1302 L2218.9,1303.5 L2218.6,1304.9 L2218,1306.4 L2217.3,1307.8 L2216.3,1309.2 L2215.2,1310.5 L2213.8,1311.9 L2212.3,1313.1 L2210.6,1314.3 L2208.7,1315.5 L2206.7,1316.6 L2204.4,1317.6 L2202.1,1318.5 L2199.6,1319.4 L2197,1320.2 L2194.3,1320.9 L2191.5,1321.5 L2188.6,1322 L2185.6,1322.4 L2182.6,1322.7 L2179.6,1322.9 L2176.5,1323 L2173.5,1323 L2170.4,1322.9 L2167.4,1322.7 L2164.4,1322.4 L2161.4,1322 L2158.5,1321.5 L2155.7,1320.9 L2153,1320.2 L2150.4,1319.4 L2147.9,1318.5 L2145.6,1317.6 L2143.3,1316.6 L2141.3,1315.5 L2139.4,1314.3 L2137.7,1313.1 L2136.2,1311.9 L2134.8,1310.5 L2133.7,1309.2 L2132.7,1307.8 L2132,1306.4 L2131.4,1304.9 L2131.1,1303.5 L2131,1302 Z" fill="#222"/>
<ellipse cx="2175" cy="1281" rx="35" ry="13" fill="#707070"/>
</g>
<path d="M2287.6,1367.5 L2288,1371.1 L2287.8,1374.8 L2287.1,1378.5 L2285.8,1382.1 L2284,1385.6 L2281.6,1389.1 L2278.6,1392.6 L2275.2,1395.9 L2271.2,1399.1 L2266.7,1402.1 L2261.8,1405.1 L2256.4,1407.8 L2250.6,1410.4 L2244.4,1412.7 L2237.9,1414.9 L2231.1,1416.9 L2223.9,1418.6 L2216.5,1420.1 L2208.9,1421.4 L2201.1,1422.4 L2193.2,1423.2 L2185.1,1423.7 L2177.1,1424 L2168.9,1424 L2160.9,1423.7 L2152.8,1423.2 L2144.9,1422.4 L2137.1,1421.4 L2129.5,1420.1 L2122.1,1418.6 L2114.9,1416.9 L2108.1,1414.9 L2101.6,1412.7 L2095.4,1410.4 L2089.6,1407.8 L2084.2,1405.1 L2079.3,1402.1 L2074.8,1399.1 L2070.8,1395.9 L2067.4,1392.6 L2064.4,1389.1 L2062,1385.6 L2060.2,1382.1 L2058.9,1378.5 L2058.2,1374.8 L2058,1371.1 L2058.4,1367.5" fill="none" stroke="#000" stroke-width="4" stroke-linejoin="round" stroke-linecap="round"/>
<path d="M2288,1320 L2288,1372" fill="none" stroke="#000" stroke-width="4" stroke-linejoin="round" stroke-linecap="round"/>
<ellipse cx="2174" cy="1537" rx="92" ry="51" fill="#fff" stroke="#000" stroke-width="5"/>
<ellipse cx="2174" cy="1533" rx="91" ry="49" fill="#fff" stroke="#000" stroke-width="2.5"/>
<ellipse cx="2250.4" cy="1533" rx="6.2" ry="3.3" fill="#fff" stroke="#000" stroke-width="3.4"/>
<ellipse cx="2247.3" cy="1544.6" rx="6.2" ry="3.3" fill="#fff" stroke="#000" stroke-width="3.4"/>
<ellipse cx="2238.3" cy="1555.3" rx="6.2" ry="3.3" fill="#fff" stroke="#000" stroke-width="3.4"/>
<ellipse cx="2224.1" cy="1564.1" rx="6.2" ry="3.3" fill="#fff" stroke="#000" stroke-width="3.4"/>
<ellipse cx="2205.8" cy="1570.4" rx="6.2" ry="3.3" fill="#fff" stroke="#000" stroke-width="3.4"/>
<ellipse cx="2184.9" cy="1573.7" rx="6.2" ry="3.3" fill="#fff" stroke="#000" stroke-width="3.4"/>
<ellipse cx="2163.1" cy="1573.7" rx="6.2" ry="3.3" fill="#fff" stroke="#000" stroke-width="3.4"/>
<ellipse cx="2142.2" cy="1570.4" rx="6.2" ry="3.3" fill="#fff" stroke="#000" stroke-width="3.4"/>
<ellipse cx="2123.9" cy="1564.1" rx="6.2" ry="3.3" fill="#fff" stroke="#000" stroke-width="3.4"/>
<ellipse cx="2109.7" cy="1555.3" rx="6.2" ry="3.3" fill="#fff" stroke="#000" stroke-width="3.4"/>
<ellipse cx="2100.7" cy="1544.6" rx="6.2" ry="3.3" fill="#fff" stroke="#000" stroke-width="3.4"/>
<ellipse cx="2097.6" cy="1533" rx="6.2" ry="3.3" fill="#fff" stroke="#000" stroke-width="3.4"/>
<ellipse cx="2100.7" cy="1521.4" rx="6.2" ry="3.3" fill="#fff" stroke="#000" stroke-width="3.4"/>
<ellipse cx="2109.7" cy="1510.7" rx="6.2" ry="3.3" fill="#fff" stroke="#000" stroke-width="3.4"/>
<ellipse cx="2123.9" cy="1501.9" rx="6.2" ry="3.3" fill="#fff" stroke="#000" stroke-width="3.4"/>
<ellipse cx="2142.2" cy="1495.6" rx="6.2" ry="3.3" fill="#fff" stroke="#000" stroke-width="3.4"/>
<ellipse cx="2163.1" cy="1492.3" rx="6.2" ry="3.3" fill="#fff" stroke="#000" stroke-width="3.4"/>
<ellipse cx="2184.9" cy="1492.3" rx="6.2" ry="3.3" fill="#fff" stroke="#000" stroke-width="3.4"/>
<ellipse cx="2205.8" cy="1495.6" rx="6.2" ry="3.3" fill="#fff" stroke="#000" stroke-width="3.4"/>
<ellipse cx="2224.1" cy="1501.9" rx="6.2" ry="3.3" fill="#fff" stroke="#000" stroke-width="3.4"/>
<ellipse cx="2238.3" cy="1510.7" rx="6.2" ry="3.3" fill="#fff" stroke="#000" stroke-width="3.4"/>
<ellipse cx="2247.3" cy="1521.4" rx="6.2" ry="3.3" fill="#fff" stroke="#000" stroke-width="3.4"/>
<ellipse cx="2229.6" cy="1538.3" rx="6.2" ry="3.3" fill="#fff" stroke="#000" stroke-width="3.4"/>
<ellipse cx="2221.6" cy="1549.3" rx="6.2" ry="3.3" fill="#fff" stroke="#000" stroke-width="3.4"/>
<ellipse cx="2206.4" cy="1557.9" rx="6.2" ry="3.3" fill="#fff" stroke="#000" stroke-width="3.4"/>
<ellipse cx="2186.2" cy="1562.7" rx="6.2" ry="3.3" fill="#fff" stroke="#000" stroke-width="3.4"/>
<ellipse cx="2164.2" cy="1562.9" rx="6.2" ry="3.3" fill="#fff" stroke="#000" stroke-width="3.4"/>
<ellipse cx="2143.7" cy="1558.6" rx="6.2" ry="3.3" fill="#fff" stroke="#000" stroke-width="3.4"/>
<ellipse cx="2127.8" cy="1550.4" rx="6.2" ry="3.3" fill="#fff" stroke="#000" stroke-width="3.4"/>
<ellipse cx="2118.9" cy="1539.6" rx="6.2" ry="3.3" fill="#fff" stroke="#000" stroke-width="3.4"/>
<ellipse cx="2118.4" cy="1527.7" rx="6.2" ry="3.3" fill="#fff" stroke="#000" stroke-width="3.4"/>
<ellipse cx="2126.4" cy="1516.7" rx="6.2" ry="3.3" fill="#fff" stroke="#000" stroke-width="3.4"/>
<ellipse cx="2141.6" cy="1508.1" rx="6.2" ry="3.3" fill="#fff" stroke="#000" stroke-width="3.4"/>
<ellipse cx="2161.8" cy="1503.3" rx="6.2" ry="3.3" fill="#fff" stroke="#000" stroke-width="3.4"/>
<ellipse cx="2183.8" cy="1503.1" rx="6.2" ry="3.3" fill="#fff" stroke="#000" stroke-width="3.4"/>
<ellipse cx="2204.3" cy="1507.4" rx="6.2" ry="3.3" fill="#fff" stroke="#000" stroke-width="3.4"/>
<ellipse cx="2220.2" cy="1515.6" rx="6.2" ry="3.3" fill="#fff" stroke="#000" stroke-width="3.4"/>
<ellipse cx="2229.1" cy="1526.4" rx="6.2" ry="3.3" fill="#fff" stroke="#000" stroke-width="3.4"/>
<ellipse cx="2171" cy="1533" rx="37" ry="19" fill="#fff" stroke="#000" stroke-width="4.5"/>
<ellipse cx="2196.2" cy="1534" rx="5" ry="3" fill="#fff" stroke="#000" stroke-width="3"/>
<ellipse cx="2192.8" cy="1540.5" rx="5" ry="3" fill="#fff" stroke="#000" stroke-width="3"/>
<ellipse cx="2183.6" cy="1545.2" rx="5" ry="3" fill="#fff" stroke="#000" stroke-width="3"/>
<ellipse cx="2171" cy="1546.9" rx="5" ry="3" fill="#fff" stroke="#000" stroke-width="3"/>
<ellipse cx="2158.4" cy="1545.2" rx="5" ry="3" fill="#fff" stroke="#000" stroke-width="3"/>
<ellipse cx="2149.2" cy="1540.5" rx="5" ry="3" fill="#fff" stroke="#000" stroke-width="3"/>
<ellipse cx="2145.8" cy="1534" rx="5" ry="3" fill="#fff" stroke="#000" stroke-width="3"/>
<ellipse cx="2149.2" cy="1527.5" rx="5" ry="3" fill="#fff" stroke="#000" stroke-width="3"/>
<ellipse cx="2158.4" cy="1522.8" rx="5" ry="3" fill="#fff" stroke="#000" stroke-width="3"/>
<ellipse cx="2171" cy="1521.1" rx="5" ry="3" fill="#fff" stroke="#000" stroke-width="3"/>
<ellipse cx="2183.6" cy="1522.8" rx="5" ry="3" fill="#fff" stroke="#000" stroke-width="3"/>
<ellipse cx="2192.8" cy="1527.5" rx="5" ry="3" fill="#fff" stroke="#000" stroke-width="3"/>
<ellipse cx="2171" cy="1535" rx="10" ry="5" fill="#fff" stroke="#000" stroke-width="4"/>
<ellipse cx="2175" cy="1664" rx="93" ry="48.5" fill="#fff" stroke="#000" stroke-width="5"/>
<ellipse cx="2175" cy="1660" rx="92" ry="47" fill="#fff" stroke="#000" stroke-width="2.5"/>
<ellipse cx="2253.2" cy="1660" rx="6.2" ry="3.3" fill="#fff" stroke="#000" stroke-width="3.4"/>
<ellipse cx="2250.3" cy="1670.8" rx="6.2" ry="3.3" fill="#fff" stroke="#000" stroke-width="3.4"/>
<ellipse cx="2241.8" cy="1680.8" rx="6.2" ry="3.3" fill="#fff" stroke="#000" stroke-width="3.4"/>
<ellipse cx="2228.4" cy="1689.2" rx="6.2" ry="3.3" fill="#fff" stroke="#000" stroke-width="3.4"/>
<ellipse cx="2211" cy="1695.5" rx="6.2" ry="3.3" fill="#fff" stroke="#000" stroke-width="3.4"/>
<ellipse cx="2190.9" cy="1699.1" rx="6.2" ry="3.3" fill="#fff" stroke="#000" stroke-width="3.4"/>
<ellipse cx="2169.7" cy="1699.9" rx="6.2" ry="3.3" fill="#fff" stroke="#000" stroke-width="3.4"/>
<ellipse cx="2148.8" cy="1697.6" rx="6.2" ry="3.3" fill="#fff" stroke="#000" stroke-width="3.4"/>
<ellipse cx="2129.9" cy="1692.6" rx="6.2" ry="3.3" fill="#fff" stroke="#000" stroke-width="3.4"/>
<ellipse cx="2114.3" cy="1685.2" rx="6.2" ry="3.3" fill="#fff" stroke="#000" stroke-width="3.4"/>
<ellipse cx="2103.3" cy="1675.9" rx="6.2" ry="3.3" fill="#fff" stroke="#000" stroke-width="3.4"/>
<ellipse cx="2097.5" cy="1665.4" rx="6.2" ry="3.3" fill="#fff" stroke="#000" stroke-width="3.4"/>
<ellipse cx="2097.5" cy="1654.6" rx="6.2" ry="3.3" fill="#fff" stroke="#000" stroke-width="3.4"/>
<ellipse cx="2103.3" cy="1644.1" rx="6.2" ry="3.3" fill="#fff" stroke="#000" stroke-width="3.4"/>
<ellipse cx="2114.3" cy="1634.8" rx="6.2" ry="3.3" fill="#fff" stroke="#000" stroke-width="3.4"/>
<ellipse cx="2129.9" cy="1627.4" rx="6.2" ry="3.3" fill="#fff" stroke="#000" stroke-width="3.4"/>
<ellipse cx="2148.8" cy="1622.4" rx="6.2" ry="3.3" fill="#fff" stroke="#000" stroke-width="3.4"/>
<ellipse cx="2169.7" cy="1620.1" rx="6.2" ry="3.3" fill="#fff" stroke="#000" stroke-width="3.4"/>
<ellipse cx="2190.9" cy="1620.9" rx="6.2" ry="3.3" fill="#fff" stroke="#000" stroke-width="3.4"/>
<ellipse cx="2211" cy="1624.5" rx="6.2" ry="3.3" fill="#fff" stroke="#000" stroke-width="3.4"/>
<ellipse cx="2228.4" cy="1630.8" rx="6.2" ry="3.3" fill="#fff" stroke="#000" stroke-width="3.4"/>
<ellipse cx="2241.8" cy="1639.2" rx="6.2" ry="3.3" fill="#fff" stroke="#000" stroke-width="3.4"/>
<ellipse cx="2250.3" cy="1649.2" rx="6.2" ry="3.3" fill="#fff" stroke="#000" stroke-width="3.4"/>
<ellipse cx="2231.5" cy="1664.1" rx="6.2" ry="3.3" fill="#fff" stroke="#000" stroke-width="3.4"/>
<ellipse cx="2224.1" cy="1674.8" rx="6.2" ry="3.3" fill="#fff" stroke="#000" stroke-width="3.4"/>
<ellipse cx="2209.3" cy="1683.3" rx="6.2" ry="3.3" fill="#fff" stroke="#000" stroke-width="3.4"/>
<ellipse cx="2189.3" cy="1688.2" rx="6.2" ry="3.3" fill="#fff" stroke="#000" stroke-width="3.4"/>
<ellipse cx="2167.1" cy="1688.9" rx="6.2" ry="3.3" fill="#fff" stroke="#000" stroke-width="3.4"/>
<ellipse cx="2146.1" cy="1685.1" rx="6.2" ry="3.3" fill="#fff" stroke="#000" stroke-width="3.4"/>
<ellipse cx="2129.4" cy="1677.5" rx="6.2" ry="3.3" fill="#fff" stroke="#000" stroke-width="3.4"/>
<ellipse cx="2119.8" cy="1667.3" rx="6.2" ry="3.3" fill="#fff" stroke="#000" stroke-width="3.4"/>
<ellipse cx="2118.5" cy="1655.9" rx="6.2" ry="3.3" fill="#fff" stroke="#000" stroke-width="3.4"/>
<ellipse cx="2125.9" cy="1645.2" rx="6.2" ry="3.3" fill="#fff" stroke="#000" stroke-width="3.4"/>
<ellipse cx="2140.7" cy="1636.7" rx="6.2" ry="3.3" fill="#fff" stroke="#000" stroke-width="3.4"/>
<ellipse cx="2160.7" cy="1631.8" rx="6.2" ry="3.3" fill="#fff" stroke="#000" stroke-width="3.4"/>
<ellipse cx="2182.9" cy="1631.1" rx="6.2" ry="3.3" fill="#fff" stroke="#000" stroke-width="3.4"/>
<ellipse cx="2203.9" cy="1634.9" rx="6.2" ry="3.3" fill="#fff" stroke="#000" stroke-width="3.4"/>
<ellipse cx="2220.6" cy="1642.5" rx="6.2" ry="3.3" fill="#fff" stroke="#000" stroke-width="3.4"/>
<ellipse cx="2230.2" cy="1652.7" rx="6.2" ry="3.3" fill="#fff" stroke="#000" stroke-width="3.4"/>
<ellipse cx="2209.7" cy="1664.7" rx="6.2" ry="3.3" fill="#fff" stroke="#000" stroke-width="3.4"/>
<ellipse cx="2197.6" cy="1674.2" rx="6.2" ry="3.3" fill="#fff" stroke="#000" stroke-width="3.4"/>
<ellipse cx="2176.9" cy="1678.3" rx="6.2" ry="3.3" fill="#fff" stroke="#000" stroke-width="3.4"/>
<ellipse cx="2155.5" cy="1675.4" rx="6.2" ry="3.3" fill="#fff" stroke="#000" stroke-width="3.4"/>
<ellipse cx="2141.5" cy="1666.6" rx="6.2" ry="3.3" fill="#fff" stroke="#000" stroke-width="3.4"/>
<ellipse cx="2140.3" cy="1655.3" rx="6.2" ry="3.3" fill="#fff" stroke="#000" stroke-width="3.4"/>
<ellipse cx="2152.4" cy="1645.8" rx="6.2" ry="3.3" fill="#fff" stroke="#000" stroke-width="3.4"/>
<ellipse cx="2173.1" cy="1641.7" rx="6.2" ry="3.3" fill="#fff" stroke="#000" stroke-width="3.4"/>
<ellipse cx="2194.5" cy="1644.6" rx="6.2" ry="3.3" fill="#fff" stroke="#000" stroke-width="3.4"/>
<ellipse cx="2208.5" cy="1653.4" rx="6.2" ry="3.3" fill="#fff" stroke="#000" stroke-width="3.4"/>
<ellipse cx="2171" cy="1658" rx="14.4" ry="8.5" fill="#fff" stroke="#000" stroke-width="4.5"/>
<path d="M2132,1767 L2475,1578" fill="none" stroke="#000" stroke-width="2.5" stroke-linejoin="round" stroke-linecap="round"/>
<path d="M2132,1767 L2163,1783 L2475,1610" fill="none" stroke="#000" stroke-width="2.5" stroke-linejoin="round" stroke-linecap="round"/>
<path d="M2168,1789 L2265,1919" fill="none" stroke="#000" stroke-width="2.5" stroke-linejoin="round" stroke-linecap="round"/>
<path d="M2132,1767 L2132,1945 L2192,1976" fill="none" stroke="#000" stroke-width="3" stroke-linejoin="round" stroke-linecap="round"/>
<path d="M2634,1537 L2671,1589 L2709,1635 L2730,1640 L2730,1644 L2710,1652 L2705,1658 L2703,1666 L2545,1858 L2293,1929" fill="none" stroke="#000" stroke-width="3.5" stroke-linejoin="round" stroke-linecap="round"/>
<path d="M2710,1662 L2552,1866 L2295,1937" fill="none" stroke="#000" stroke-width="5.5" stroke-linejoin="round" stroke-linecap="round"/>
<ellipse cx="2670" cy="1581" rx="5" ry="6" fill="#fff" stroke="#000" stroke-width="3"/>
<path d="M2294,1928 C2292.5,1926.8 2289.5,1920.5 2285,1921 C2280.5,1921.5 2271.5,1928.2 2267,1931 C2262.5,1933.8 2262,1938 2258,1938 C2254,1938 2248,1932.7 2243,1931 C2238,1929.3 2232.8,1927.2 2228,1928 C2223.2,1928.8 2218.3,1932.3 2214,1936 C2209.7,1939.7 2205,1944.3 2202,1950 C2199,1955.7 2197.3,1964 2196,1970 C2194.7,1976 2194.3,1983.3 2194,1986" fill="none" stroke="#000" stroke-width="5" stroke-linejoin="round" stroke-linecap="round"/>
<path d="M2204,1984 C2205.7,1982.8 2212.2,1981.8 2214,1977 C2215.8,1972.2 2213,1961.2 2215,1955 C2217,1948.8 2222,1943.2 2226,1940 C2230,1936.8 2233.7,1935.7 2239,1936 C2244.3,1936.3 2253.2,1942 2258,1942 C2262.8,1942 2263.5,1938.3 2268,1936 C2272.5,1933.7 2282.2,1929.3 2285,1928" fill="none" stroke="#000" stroke-width="2.5" stroke-linejoin="round" stroke-linecap="round"/>
<path d="M2194,1986 L2205,1984" fill="none" stroke="#000" stroke-width="4" stroke-linejoin="round" stroke-linecap="round"/>
<path d="M2142,1847 L2160,1838 L2193,1853 L2193,1963 L2159,1949 L2159,1874" fill="none" stroke="#000" stroke-width="5" stroke-linejoin="round" stroke-linecap="round"/>
<path d="M2142,1847 C2139.7,1848.8 2131.5,1853.7 2128,1858 C2124.5,1862.3 2121.7,1868.7 2121,1873 C2120.3,1877.3 2122.2,1881.8 2124,1884 C2125.8,1886.2 2130.5,1888.7 2132,1886 C2133.5,1883.3 2131.5,1872 2133,1868 C2134.5,1864 2139,1861.8 2141,1862 C2143,1862.2 2144.2,1866 2145,1869 C2145.8,1872 2144.8,1878.2 2146,1880 C2147.2,1881.8 2149.8,1881 2152,1880 C2154.2,1879 2157.8,1875 2159,1874" fill="none" stroke="#000" stroke-width="5" stroke-linejoin="round" stroke-linecap="round"/>
<path d="M2159,1848 L2159,1866" fill="none" stroke="#000" stroke-width="3" stroke-linejoin="round" stroke-linecap="round"/>
<path d="M2477,1425 L2479,1630 2479,1630 C2479.7,1634.2 2480.3,1647 2483,1655 C2485.7,1663 2489.7,1671 2495,1678 C2500.3,1685 2506.7,1691.7 2515,1697 C2523.3,1702.3 2535,1707.2 2545,1710 C2555,1712.8 2565,1714.8 2575,1714 C2585,1713.2 2597.2,1709 2605,1705 C2612.8,1701 2617.8,1695.5 2622,1690 C2626.2,1684.5 2628.7,1675 2630,1672 L2632,1420 Z" fill="#fff" stroke="#000" stroke-width="2.8" stroke-linejoin="round" stroke-linecap="round"/>
<path d="M2630,1428 L2630,1672" fill="none" stroke="#000" stroke-width="8" stroke-linejoin="round" stroke-linecap="round"/>
<ellipse cx="2555" cy="1424" rx="77.5" ry="31" fill="#fff" stroke="#000" stroke-width="4.5"/>
<path d="M2477.5,1424 L2477.7,1421.8 L2478.3,1419.7 L2479.2,1417.6 L2480.5,1415.5 L2482.2,1413.4 L2484.2,1411.4 L2486.6,1409.4 L2489.3,1407.6 L2492.3,1405.8 L2495.6,1404.1 L2499.3,1402.5 L2503.1,1401 L2507.3,1399.6 L2511.7,1398.3 L2516.2,1397.2 L2521,1396.1 L2526,1395.3 L2531.1,1394.5 L2536.3,1393.9 L2541.5,1393.5 L2546.9,1393.2 L2552.3,1393 L2557.7,1393 L2563.1,1393.2 L2568.5,1393.5 L2573.7,1393.9 L2578.9,1394.5 L2584,1395.3 L2589,1396.1 L2593.8,1397.2 L2598.3,1398.3 L2602.7,1399.6 L2606.9,1401 L2610.7,1402.5 L2614.4,1404.1 L2617.7,1405.8 L2620.7,1407.6 L2623.4,1409.4 L2625.8,1411.4 L2627.8,1413.4 L2629.5,1415.5 L2630.8,1417.6 L2631.7,1419.7 L2632.3,1421.8 L2632.5,1424" fill="none" stroke="#000" stroke-width="6" stroke-linejoin="round" stroke-linecap="round"/>
<ellipse cx="2552" cy="1427" rx="70" ry="25" fill="#000"/>
<ellipse cx="2551" cy="1421" rx="68" ry="20" fill="#fff"/>
<path d="M2628,1424 L2627.8,1425.9 L2627.3,1427.8 L2626.4,1429.6 L2625.2,1431.4 L2623.6,1433.2 L2621.7,1435 L2619.5,1436.7 L2616.9,1438.3 L2614.1,1439.9 L2610.9,1441.4 L2607.5,1442.8 L2603.8,1444.1 L2599.9,1445.3 L2595.8,1446.4 L2591.5,1447.4 L2587,1448.3 L2582.3,1449 L2577.6,1449.7 L2572.7,1450.2 L2567.7,1450.6 L2562.6,1450.9 L2557.5,1451 L2552.5,1451 L2547.4,1450.9 L2542.3,1450.6 L2537.3,1450.2 L2532.4,1449.7 L2527.7,1449 L2523,1448.3 L2518.5,1447.4 L2514.2,1446.4 L2510.1,1445.3 L2506.2,1444.1 L2502.5,1442.8 L2499.1,1441.4 L2495.9,1439.9 L2493.1,1438.3 L2490.5,1436.7 L2488.3,1435 L2486.4,1433.2 L2484.8,1431.4 L2483.6,1429.6 L2482.7,1427.8 L2482.2,1425.9 L2482,1424" fill="none" stroke="#fff" stroke-width="1.8" stroke-linejoin="round" stroke-linecap="round"/>
<path d="M2071,2078 L2064,2084 L2064,2104 2064,2104 L2064.3,2109 L2065.1,2114 L2066.4,2118.9 L2068.3,2123.7 L2070.8,2128.5 L2073.7,2133.1 L2077.1,2137.6 L2081,2141.9 L2085.4,2146 L2090.2,2150 L2095.4,2153.7 L2101.1,2157.1 L2107,2160.3 L2113.4,2163.3 L2120,2165.9 L2126.9,2168.3 L2134,2170.3 L2141.4,2172 L2148.9,2173.4 L2156.6,2174.4 L2164.3,2175.1 L2172.1,2175.5 L2179.9,2175.5 L2187.7,2175.1 L2195.4,2174.4 L2203.1,2173.4 L2210.6,2172 L2218,2170.3 L2225.1,2168.3 L2232,2165.9 L2238.6,2163.3 L2245,2160.3 L2250.9,2157.1 L2256.6,2153.7 L2261.8,2150 L2266.6,2146 L2271,2141.9 L2274.9,2137.6 L2278.3,2133.1 L2281.2,2128.5 L2283.7,2123.7 L2285.6,2118.9 L2286.9,2114 L2287.7,2109 L2288,2104 L2288,2084 L2282,2078" fill="#fff" stroke="#000" stroke-width="5" stroke-linejoin="round" stroke-linecap="round"/>
<path d="M2284.9,2106.9 L2283.6,2111.8 L2281.7,2116.6 L2279.4,2121.3 L2276.5,2125.9 L2273.1,2130.3 L2269.3,2134.6 L2265,2138.7 L2260.3,2142.6 L2255.1,2146.3 L2249.6,2149.8 L2243.7,2152.9 L2237.5,2155.9 L2231,2158.5 L2224.2,2160.8 L2217.2,2162.8 L2210,2164.5 L2202.6,2165.9 L2195.1,2166.9 L2187.5,2167.6 L2179.8,2168 L2172.2,2168 L2164.5,2167.6 L2156.9,2166.9 L2149.4,2165.9 L2142,2164.5 L2134.8,2162.8 L2127.8,2160.8 L2121,2158.5 L2114.5,2155.9 L2108.3,2152.9 L2102.4,2149.8 L2096.9,2146.3 L2091.7,2142.6 L2087,2138.7 L2082.7,2134.6 L2078.9,2130.3 L2075.5,2125.9 L2072.6,2121.3 L2070.3,2116.6 L2068.4,2111.8 L2067.1,2106.9" fill="none" stroke="#000" stroke-width="2.5" stroke-linejoin="round" stroke-linecap="round"/>
<path d="M2071,2062 L2071,2096 2070.7,2096 L2071,2100.3 L2071.7,2104.5 L2073,2108.7 L2074.8,2112.9 L2077.1,2117 L2079.8,2120.9 L2083,2124.8 L2086.7,2128.5 L2090.8,2132 L2095.3,2135.4 L2100.3,2138.6 L2105.5,2141.6 L2111.2,2144.3 L2117.1,2146.8 L2123.3,2149.1 L2129.8,2151.1 L2136.6,2152.8 L2143.5,2154.3 L2150.5,2155.5 L2157.7,2156.4 L2165,2157 L2172.3,2157.3 L2179.7,2157.3 L2187,2157 L2194.3,2156.4 L2201.5,2155.5 L2208.5,2154.3 L2215.4,2152.8 L2222.2,2151.1 L2228.7,2149.1 L2234.9,2146.8 L2240.8,2144.3 L2246.5,2141.6 L2251.7,2138.6 L2256.7,2135.4 L2261.2,2132 L2265.3,2128.5 L2269,2124.8 L2272.2,2120.9 L2274.9,2117 L2277.2,2112.9 L2279,2108.7 L2280.3,2104.5 L2281,2100.3 L2281.3,2096 L2282,2062 Z" fill="#fff" stroke="#000" stroke-width="3.5" stroke-linejoin="round" stroke-linecap="round"/>
<ellipse cx="2176.7" cy="2061.8" rx="105.3" ry="61.3" fill="#fff" stroke="#000" stroke-width="5.5"/>
<ellipse cx="2175.5" cy="2062.7" rx="93.5" ry="53.3" fill="#fff" stroke="#000" stroke-width="3"/>
<path d="M2269,2062.7 L2268.8,2066.4 L2268.1,2070.1 L2267,2073.8 L2265.4,2077.4 L2263.4,2080.9 L2260.9,2084.4 L2258.1,2087.7 L2254.8,2090.9 L2251.1,2094 L2247.1,2097 L2242.8,2099.7 L2238.1,2102.3 L2233.1,2104.7 L2227.8,2106.9 L2222.2,2108.9 L2216.5,2110.6 L2210.5,2112.1 L2204.4,2113.4 L2198.1,2114.4 L2191.7,2115.2 L2185.3,2115.7 L2178.8,2116 L2172.2,2116 L2165.7,2115.7 L2159.3,2115.2 L2152.9,2114.4 L2146.6,2113.4 L2140.5,2112.1 L2134.5,2110.6 L2128.8,2108.9 L2123.2,2106.9 L2117.9,2104.7 L2112.9,2102.3 L2108.2,2099.7 L2103.9,2097 L2099.9,2094 L2096.2,2090.9 L2092.9,2087.7 L2090.1,2084.4 L2087.6,2080.9 L2085.6,2077.4 L2084,2073.8 L2082.9,2070.1 L2082.2,2066.4 L2082,2062.7 2089.5,2066 L2089.7,2069.1 L2090.3,2072.3 L2091.4,2075.4 L2092.8,2078.4 L2094.7,2081.4 L2096.9,2084.3 L2099.6,2087.1 L2102.6,2089.8 L2105.9,2092.5 L2109.6,2094.9 L2113.6,2097.3 L2118,2099.4 L2122.6,2101.5 L2127.4,2103.3 L2132.5,2105 L2137.8,2106.4 L2143.3,2107.7 L2148.9,2108.8 L2154.7,2109.7 L2160.6,2110.3 L2166.5,2110.8 L2172.5,2111 L2178.5,2111 L2184.5,2110.8 L2190.4,2110.3 L2196.3,2109.7 L2202.1,2108.8 L2207.7,2107.7 L2213.2,2106.4 L2218.5,2105 L2223.6,2103.3 L2228.4,2101.5 L2233,2099.4 L2237.4,2097.3 L2241.4,2094.9 L2245.1,2092.5 L2248.4,2089.8 L2251.4,2087.1 L2254.1,2084.3 L2256.3,2081.4 L2258.2,2078.4 L2259.6,2075.4 L2260.7,2072.3 L2261.3,2069.1 L2261.5,2066 Z" fill="#000"/>
<path d="M2181,2044 C2186.7,2045 2204.3,2047.3 2215,2050 C2225.7,2052.7 2236.3,2056.7 2245,2060 C2253.7,2063.3 2263.3,2068.3 2267,2070" fill="none" stroke="#000" stroke-width="3" stroke-linejoin="round" stroke-linecap="round"/>
<path d="M2086,2071 L2150,2080" fill="none" stroke="#000" stroke-width="5" stroke-linejoin="round" stroke-linecap="round"/>
<path d="M2196,2078 L2262,2070" fill="none" stroke="#000" stroke-width="5" stroke-linejoin="round" stroke-linecap="round"/>
<path d="M2127,2099 L2150,2108" fill="none" stroke="#000" stroke-width="5" stroke-linejoin="round" stroke-linecap="round"/>
<path d="M2196,2104 L2222,2112" fill="none" stroke="#000" stroke-width="5" stroke-linejoin="round" stroke-linecap="round"/>
<path d="M2190,2108 L2195,2116" fill="none" stroke="#000" stroke-width="5" stroke-linejoin="round" stroke-linecap="round"/>
<ellipse cx="2107" cy="2083" rx="21.4" ry="14.3" fill="#fff" stroke="#000" stroke-width="5"/>
<ellipse cx="2108" cy="2088" rx="14" ry="8" fill="#000"/>
<ellipse cx="2106" cy="2082" rx="14" ry="7" fill="#fff"/>
<ellipse cx="2245.5" cy="2081" rx="25" ry="16.7" fill="#fff" stroke="#000" stroke-width="5"/>
<ellipse cx="2246" cy="2087" rx="17" ry="8" fill="#000"/>
<ellipse cx="2246" cy="2089" rx="12" ry="5" fill="#fff"/>
<path d="M2150,2083 L2150,2104 2150,2104 L2150.1,2104.8 L2150.2,2105.7 L2150.5,2106.5 L2150.9,2107.3 L2151.4,2108.1 L2152,2108.9 L2152.7,2109.6 L2153.5,2110.4 L2154.4,2111.1 L2155.4,2111.7 L2156.5,2112.3 L2157.6,2112.9 L2158.8,2113.5 L2160.1,2113.9 L2161.5,2114.4 L2162.9,2114.8 L2164.4,2115.1 L2165.9,2115.4 L2167.4,2115.6 L2169,2115.8 L2170.6,2115.9 L2172.2,2116 L2173.8,2116 L2175.4,2115.9 L2177,2115.8 L2178.6,2115.6 L2180.1,2115.4 L2181.6,2115.1 L2183.1,2114.8 L2184.5,2114.4 L2185.9,2113.9 L2187.2,2113.5 L2188.4,2112.9 L2189.5,2112.3 L2190.6,2111.7 L2191.6,2111.1 L2192.5,2110.4 L2193.3,2109.6 L2194,2108.9 L2194.6,2108.1 L2195.1,2107.3 L2195.5,2106.5 L2195.8,2105.7 L2195.9,2104.8 L2196,2104 L2196,2083" fill="#fff" stroke="#000" stroke-width="4" stroke-linejoin="round" stroke-linecap="round"/>
<ellipse cx="2173" cy="2083" rx="23" ry="14" fill="#fff" stroke="#000" stroke-width="4.5"/>
<ellipse cx="2172" cy="2080" rx="12" ry="7.5" fill="#000"/>
<ellipse cx="2172" cy="2078" rx="8" ry="4" fill="#fff"/>
<ellipse cx="2150" cy="2046" rx="31" ry="20" fill="#fff" stroke="#000" stroke-width="5"/>
<ellipse cx="2151" cy="2046" rx="23" ry="14" fill="#fff" stroke="#000" stroke-width="4.5"/>
<ellipse cx="2151" cy="2051" rx="16" ry="6" fill="#fff" stroke="#000" stroke-width="3"/>
<ellipse cx="2206" cy="2060" rx="8" ry="5" fill="#000"/>
<g filter="url(#stip)">
<ellipse cx="2173" cy="2257" rx="105" ry="64" fill="#707070"/>
</g>
<ellipse cx="2173" cy="2257" rx="105" ry="64" fill="none" stroke="#000" stroke-width="8"/>
<ellipse cx="2173" cy="2257" rx="79" ry="40" fill="#fff" stroke="#000" stroke-width="7"/>
<g filter="url(#stip)">
<path d="M1474.7,1688 C1473.3,1692.6 1470.5,1685.6 1468.4,1684.3 C1466.2,1683.1 1464.1,1681.8 1462,1680.4 C1459.9,1679.1 1457.8,1677.7 1455.7,1676.2 C1453.6,1674.8 1451.5,1673.3 1449.5,1671.7 C1447.4,1670.2 1445.3,1668.6 1443.3,1666.9 C1441.3,1665.3 1439.2,1663.6 1437.2,1661.9 C1435.2,1660.2 1433.2,1658.4 1431.2,1656.6 C1429.2,1654.8 1427.2,1652.9 1425.3,1651 C1423.3,1649.1 1421.4,1647.2 1419.5,1645.2 C1417.6,1643.3 1415.7,1641.2 1413.8,1639.2 C1411.9,1637.2 1410.1,1635.1 1408.2,1633 C1406.4,1630.8 1404.6,1628.7 1402.8,1626.5 C1401.1,1624.3 1399.3,1622.1 1397.6,1619.8 C1395.8,1617.6 1394.1,1615.3 1392.5,1613 C1390.8,1610.7 1389.2,1608.4 1387.5,1606 C1385.9,1603.6 1384.3,1601.3 1382.8,1598.8 C1381.2,1596.4 1379.7,1594 1378.2,1591.5 C1376.7,1589.1 1375.3,1586.6 1373.8,1584.1 C1372.4,1581.6 1371,1579 1369.7,1576.5 C1368.3,1574 1367,1571.4 1365.7,1568.8 C1364.4,1566.3 1363.1,1563.7 1361.9,1561.1 C1360.7,1558.5 1359.5,1555.8 1358.4,1553.2 C1357.3,1550.6 1356.2,1547.9 1355.1,1545.3 C1354,1542.6 1353,1540 1352,1537.3 C1351.1,1534.7 1350.1,1532 1349.2,1529.3 C1348.3,1526.6 1347.4,1524 1346.6,1521.3 C1345.8,1518.6 1345,1515.9 1344.3,1513.2 C1343.6,1510.6 1342.9,1507.9 1342.2,1505.2 C1341.6,1502.5 1341,1499.8 1340.4,1497.2 C1339.8,1494.5 1339.3,1491.9 1338.8,1489.2 C1338.4,1486.5 1337.9,1483.9 1337.5,1481.3 C1337.2,1478.6 1336.8,1476 1336.5,1473.4 C1336.2,1470.8 1336,1468.2 1335.8,1465.6 C1335.5,1463 1335.4,1460.4 1335.3,1457.9 C1335.1,1455.3 1335.1,1452.8 1335,1450.3 C1335,1447.8 1335,1445.3 1335.1,1442.8 C1335.1,1440.3 1335.2,1437.9 1335.4,1435.4 C1335.6,1433 1335.7,1430.6 1336,1428.2 C1336.2,1425.8 1336.5,1423.5 1336.8,1421.2 C1337.2,1418.8 1337.5,1416.5 1338,1414.3 C1338.4,1412 1338.8,1409.8 1339.4,1407.6 C1339.9,1405.4 1340.4,1403.2 1341,1401 C1341.6,1398.9 1342.2,1396.8 1342.9,1394.7 C1343.6,1392.7 1344.3,1390.6 1345.1,1388.6 C1345.8,1386.6 1346.6,1384.7 1347.5,1382.8 C1348.3,1380.8 1349.2,1379 1350.2,1377.1 C1351.1,1375.3 1352.1,1373.5 1353.1,1371.7 C1354.1,1370 1355.1,1368.3 1356.2,1366.6 C1357.3,1365 1358.4,1363.3 1359.6,1361.8 C1360.8,1360.2 1362,1358.7 1363.2,1357.2 C1364.5,1355.7 1365.7,1354.2 1367,1352.9 C1368.4,1351.5 1369.7,1350.1 1371.1,1348.8 C1372.5,1347.6 1373.9,1346.3 1375.3,1345.1 C1376.8,1343.9 1378.3,1342.8 1379.8,1341.7 C1381.3,1340.6 1382.8,1339.6 1384.4,1338.6 C1386,1337.6 1387.6,1336.7 1389.2,1335.8 C1390.9,1334.9 1392.5,1334.1 1394.2,1333.4 C1395.9,1332.6 1397.6,1331.9 1399.4,1331.2 C1401.1,1330.5 1402.9,1329.9 1404.7,1329.4 C1406.5,1328.8 1405.2,1324.6 1410.2,1327.9 C1415.1,1331.2 1430.9,1345.4 1434.2,1349 C1437.5,1352.6 1431.4,1349.4 1429.9,1349.7 C1428.5,1349.9 1427.2,1350.3 1425.8,1350.7 C1424.4,1351 1423.1,1351.5 1421.7,1351.9 C1420.4,1352.4 1419.1,1352.9 1417.8,1353.5 C1416.5,1354 1415.3,1354.7 1414,1355.3 C1412.8,1356 1411.6,1356.7 1410.4,1357.5 C1409.2,1358.2 1408,1359 1406.9,1359.9 C1405.7,1360.7 1404.6,1361.6 1403.5,1362.5 C1402.4,1363.5 1401.3,1364.5 1400.3,1365.5 C1399.2,1366.5 1398.2,1367.6 1397.2,1368.7 C1396.2,1369.8 1395.3,1371 1394.3,1372.2 C1393.4,1373.4 1392.5,1374.6 1391.6,1375.9 C1390.7,1377.2 1389.9,1378.5 1389.1,1379.9 C1388.2,1381.2 1387.5,1382.6 1386.7,1384.1 C1385.9,1385.5 1385.2,1387 1384.5,1388.5 C1383.8,1390 1383.2,1391.6 1382.5,1393.2 C1381.9,1394.8 1381.3,1396.4 1380.7,1398.1 C1380.1,1399.7 1379.6,1401.4 1379.1,1403.1 C1378.6,1404.9 1378.1,1406.6 1377.7,1408.4 C1377.3,1410.2 1376.9,1412 1376.5,1413.9 C1376.1,1415.7 1375.8,1417.6 1375.5,1419.5 C1375.2,1421.5 1374.9,1423.4 1374.7,1425.4 C1374.4,1427.3 1374.2,1429.3 1374.1,1431.3 C1373.9,1433.3 1373.8,1435.4 1373.7,1437.5 C1373.6,1439.5 1373.5,1441.6 1373.5,1443.7 C1373.5,1445.8 1373.5,1447.9 1373.5,1450.1 C1373.5,1452.2 1373.6,1454.4 1373.7,1456.6 C1373.8,1458.8 1374,1461 1374.2,1463.2 C1374.3,1465.4 1374.6,1467.6 1374.8,1469.9 C1375.1,1472.1 1375.3,1474.4 1375.6,1476.6 C1376,1478.9 1376.3,1481.2 1376.7,1483.5 C1377.1,1485.8 1377.5,1488.1 1377.9,1490.4 C1378.4,1492.7 1378.9,1495 1379.4,1497.3 C1379.9,1499.6 1380.5,1501.9 1381,1504.2 C1381.6,1506.6 1382.2,1508.9 1382.9,1511.2 C1383.5,1513.5 1384.2,1515.9 1384.9,1518.2 C1385.6,1520.5 1386.4,1522.8 1387.1,1525.2 C1387.9,1527.5 1388.7,1529.8 1389.5,1532.1 C1390.4,1534.4 1391.2,1536.7 1392.1,1539 C1393,1541.3 1393.9,1543.6 1394.9,1545.9 C1395.8,1548.2 1396.8,1550.5 1397.8,1552.7 C1398.8,1555 1399.8,1557.3 1400.9,1559.5 C1401.9,1561.7 1403,1564 1404.1,1566.2 C1405.2,1568.4 1406.4,1570.6 1407.5,1572.7 C1408.7,1574.9 1409.8,1577.1 1411.1,1579.2 C1412.3,1581.4 1413.5,1583.5 1414.7,1585.6 C1416,1587.7 1417.3,1589.7 1418.6,1591.8 C1419.8,1593.9 1421.2,1595.9 1422.5,1597.9 C1423.8,1599.9 1425.2,1601.9 1426.6,1603.8 C1427.9,1605.8 1429.3,1607.7 1430.7,1609.6 C1432.2,1611.5 1433.6,1613.4 1435,1615.2 C1436.5,1617.1 1437.9,1618.9 1439.4,1620.7 C1440.9,1622.4 1442.4,1624.2 1443.9,1625.9 C1445.4,1627.6 1446.9,1629.3 1448.4,1630.9 C1450,1632.6 1451.5,1634.2 1453.1,1635.8 C1454.6,1637.4 1456.2,1638.9 1457.8,1640.4 C1459.3,1641.9 1460.9,1643.4 1462.5,1644.8 C1464.1,1646.2 1465.7,1647.6 1467.3,1649 C1468.9,1650.3 1470.5,1651.6 1472.1,1652.9 C1473.8,1654.1 1476.6,1650.7 1477,1656.5 C1477.4,1662.4 1476.2,1683.3 1474.7,1688 Z" fill="#303030"/>
</g>
<path d="M1494.5,1358.9 L1503,1364.4 L1511.4,1370.6 L1519.8,1377.5 L1528,1385 L1536,1393.2 L1543.8,1402 L1551.3,1411.3 L1558.6,1421.1 L1565.5,1431.4 L1572,1442.1 L1578.1,1453.1 L1583.8,1464.5 L1589.1,1476 L1593.9,1487.8 L1598.1,1499.7 L1601.9,1511.6 L1605,1523.6 L1607.7,1535.5 L1609.7,1547.3 L1611.2,1558.9 L1612.1,1570.4 L1612.4,1581.5 L1612,1592.4 L1611.1,1602.8 L1609.6,1612.8 L1607.6,1622.4 L1604.9,1631.4 L1601.7,1639.8 L1597.9,1647.6 L1593.7,1654.8 L1588.9,1661.3 L1583.6,1667 L1577.9,1672 L1571.7,1676.3 L1565.2,1679.7 L1558.3,1682.4 L1551,1684.2 L1543.5,1685.2 L1535.7,1685.4 L1527.6,1684.7 L1519.4,1683.2 L1511.1,1680.9 L1502.6,1677.8 L1494.1,1673.8 L1485.5,1669.1" fill="none" stroke="#000" stroke-width="2.5" stroke-linejoin="round" stroke-linecap="round"/>
<ellipse cx="1490" cy="1514" rx="176" ry="100" transform="rotate(65.6 1490 1514)" fill="none" stroke="#000" stroke-width="6"/>
<path d="M1585.4,1695.8 L1577.1,1699.8 L1568.4,1702.9 L1559.2,1705.1 L1549.7,1706.3 L1539.9,1706.7 L1529.8,1706.1 L1519.6,1704.5 L1509.1,1702.1 L1498.6,1698.7 L1488,1694.5 L1477.4,1689.4 L1466.8,1683.4 L1456.4,1676.7 L1446.1,1669.1 L1436,1660.8 L1426.1,1651.8 L1416.5,1642.1 L1407.3,1631.9 L1398.5,1621 L1390.1,1609.7 L1382.1,1597.8 L1374.7,1585.6 L1367.9,1573.1 L1361.6,1560.2 L1355.9,1547.2 L1350.8,1534 L1346.5,1520.7 L1342.8,1507.4 L1339.8,1494.1 L1337.5,1481 L1336,1468 L1335.2,1455.2 L1335.1,1442.8 L1335.8,1430.7 L1337.2,1419 L1339.3,1407.8 L1342.2,1397.1 L1345.7,1387 L1350,1377.5 L1354.9,1368.7 L1360.5,1360.6 L1366.6,1353.3 L1373.4,1346.8 L1380.7,1341 L1388.6,1336.2 L1396.9,1332.2 L1405.6,1329.1 L1414.8,1326.9 L1424.3,1325.7 L1434.1,1325.3 L1444.2,1325.9 L1454.4,1327.5 L1464.9,1329.9 L1475.4,1333.3 L1486,1337.5 L1496.6,1342.6 L1507.2,1348.6 L1517.6,1355.3 L1527.9,1362.9 L1538,1371.2 L1547.9,1380.2 L1557.5,1389.9 L1566.7,1400.1 L1575.5,1411 L1583.9,1422.3 L1591.9,1434.2 L1599.3,1446.4 L1606.1,1458.9 L1612.4,1471.8 L1618.1,1484.8 L1623.2,1498 L1627.5,1511.3 L1631.2,1524.6 L1634.2,1537.9 L1636.5,1551 L1638,1564 L1638.8,1576.8 L1638.9,1589.2 L1638.2,1601.3 L1636.8,1613 L1634.7,1624.2 L1631.8,1634.9 L1628.3,1645 L1624,1654.5 L1619.1,1663.3 L1613.5,1671.4 L1607.4,1678.7 L1600.6,1685.2 L1593.3,1691 L1585.4,1695.8" fill="none" stroke="#000" stroke-width="5" stroke-linejoin="round" stroke-linecap="round"/>
<path d="M1439.1,1655.7 L1429.5,1646.8 L1420.2,1637.3 L1411.2,1627.2 L1402.6,1616.6 L1394.4,1605.4 L1386.7,1593.9 L1379.5,1581.9 L1372.8,1569.6 L1366.7,1557 L1361.1,1544.3 L1356.2,1531.3 L1352,1518.4 L1348.4,1505.4 L1345.5,1492.4 L1343.3,1479.6 L1341.8,1466.9 L1341,1454.5 L1341,1442.4 L1341.6,1430.7 L1343,1419.4 L1345.1,1408.6 L1347.9,1398.3 L1351.4,1388.5 L1355.6,1379.5 L1360.4,1371 L1365.9,1363.3 L1371.9,1356.4 L1378.5,1350.3 L1385.7,1344.9 L1393.3,1340.5 L1401.4,1336.8" fill="none" stroke="#000" stroke-width="2.5" stroke-linejoin="round" stroke-linecap="round"/>
<path d="M1456,1652 L1462,1700 L1462,1739 L1473,1752" fill="none" stroke="#000" stroke-width="4" stroke-linejoin="round" stroke-linecap="round"/>
<path d="M1486,1663 L1488,1672 L1486,1700" fill="none" stroke="#000" stroke-width="4" stroke-linejoin="round" stroke-linecap="round"/>
<path d="M1486,1689 C1490.3,1689.7 1502.2,1691.2 1512,1693 C1521.8,1694.8 1534.8,1698 1545,1700 C1555.2,1702 1568.3,1704.2 1573,1705" fill="none" stroke="#000" stroke-width="3" stroke-linejoin="round" stroke-linecap="round"/>
<path d="M1481,1708 L1503,1703 L1506,1736 L1484,1742 Z" fill="#fff" stroke="#000" stroke-width="4" stroke-linejoin="round" stroke-linecap="round"/>
<ellipse cx="1494" cy="1723" rx="5" ry="6" fill="#000"/>
<path d="M1473,1752 L1484,1742" fill="none" stroke="#000" stroke-width="4" stroke-linejoin="round" stroke-linecap="round"/>
<path d="M1285,1750 C1285.8,1748.8 1286.2,1745.8 1290,1743 C1293.8,1740.2 1300.2,1733.7 1308,1733 C1315.8,1732.3 1327.5,1738.5 1337,1739 C1346.5,1739.5 1356.7,1740.2 1365,1736 C1373.3,1731.8 1381,1721 1387,1714 C1393,1707 1397.7,1698.7 1401,1694 C1404.3,1689.3 1406,1687.3 1407,1686 L1560,1937 L1556,1948 L1446,2022 L1432,2016 Z" fill="#fff" stroke="#000" stroke-width="4" stroke-linejoin="round" stroke-linecap="round"/>
<path d="M1288,1745 C1291.3,1743 1299.8,1734 1308,1733 C1316.2,1732 1327.5,1738.5 1337,1739 C1346.5,1739.5 1356.7,1740.2 1365,1736 C1373.3,1731.8 1381,1721 1387,1714 C1393,1707 1398.7,1697.3 1401,1694" fill="none" stroke="#000" stroke-width="10" stroke-linejoin="round" stroke-linecap="round"/>
<path d="M1405,1687 L1432,1671 L1441,1678 L1439,1705 L1432,1723" fill="#fff" stroke="#000" stroke-width="4" stroke-linejoin="round" stroke-linecap="round"/>
<path d="M1410,1692 L1552,1930" fill="none" stroke="#000" stroke-width="2.5" stroke-linejoin="round" stroke-linecap="round"/>
<ellipse cx="1441" cy="1995" rx="6" ry="9" transform="rotate(-30 1441 1995)" fill="#fff" stroke="#000" stroke-width="3"/>
<ellipse cx="1538" cy="1937" rx="6" ry="9" transform="rotate(-30 1538 1937)" fill="#fff" stroke="#000" stroke-width="3"/>
</svg>
</body></html>
